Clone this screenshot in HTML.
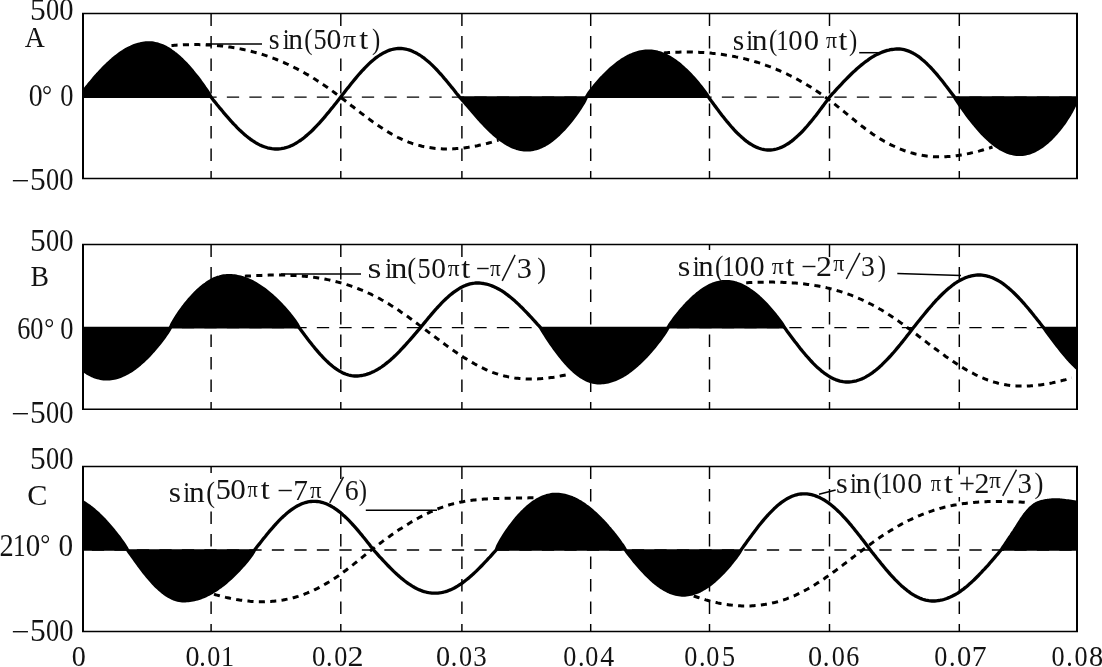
<!DOCTYPE html>
<html><head><meta charset="utf-8"><title>Sine waveforms</title>
<style>html,body{margin:0;padding:0;background:#fff;}body{width:1102px;height:667px;overflow:hidden;font-family:"Liberation Serif",serif;}svg{display:block;}</style></head>
<body>
<svg width="1102" height="667" viewBox="0 0 1102 667">
<rect width="1102" height="667" fill="#fff"/>
<line x1="211.1" y1="13.5" x2="211.1" y2="178.4" stroke="#000" stroke-width="1.45" stroke-dasharray="12.6 9.9"/>
<line x1="340.8" y1="13.5" x2="340.8" y2="178.4" stroke="#000" stroke-width="1.45" stroke-dasharray="12.6 9.9"/>
<line x1="461.9" y1="13.5" x2="461.9" y2="178.4" stroke="#000" stroke-width="1.45" stroke-dasharray="12.6 9.9"/>
<line x1="590.7" y1="13.5" x2="590.7" y2="178.4" stroke="#000" stroke-width="1.45" stroke-dasharray="12.6 9.9"/>
<line x1="709.5" y1="13.5" x2="709.5" y2="178.4" stroke="#000" stroke-width="1.45" stroke-dasharray="12.6 9.9"/>
<line x1="829.5" y1="13.5" x2="829.5" y2="178.4" stroke="#000" stroke-width="1.45" stroke-dasharray="12.6 9.9"/>
<line x1="959.3" y1="13.5" x2="959.3" y2="178.4" stroke="#000" stroke-width="1.45" stroke-dasharray="12.6 9.9"/>
<line x1="83.0" y1="97.1" x2="1077.0" y2="97.1" stroke="#000" stroke-width="1.4" stroke-dasharray="12.3 10.2" stroke-dashoffset="13.65"/>
<line x1="211.1" y1="244.5" x2="211.1" y2="409.35" stroke="#000" stroke-width="1.45" stroke-dasharray="12.6 9.9"/>
<line x1="340.8" y1="244.5" x2="340.8" y2="409.35" stroke="#000" stroke-width="1.45" stroke-dasharray="12.6 9.9"/>
<line x1="461.9" y1="244.5" x2="461.9" y2="409.35" stroke="#000" stroke-width="1.45" stroke-dasharray="12.6 9.9"/>
<line x1="590.7" y1="244.5" x2="590.7" y2="409.35" stroke="#000" stroke-width="1.45" stroke-dasharray="12.6 9.9"/>
<line x1="709.5" y1="244.5" x2="709.5" y2="409.35" stroke="#000" stroke-width="1.45" stroke-dasharray="12.6 9.9"/>
<line x1="829.5" y1="244.5" x2="829.5" y2="409.35" stroke="#000" stroke-width="1.45" stroke-dasharray="12.6 9.9"/>
<line x1="959.3" y1="244.5" x2="959.3" y2="409.35" stroke="#000" stroke-width="1.45" stroke-dasharray="12.6 9.9"/>
<line x1="83.0" y1="327.6" x2="1077.0" y2="327.6" stroke="#000" stroke-width="1.4" stroke-dasharray="12.3 10.2" stroke-dashoffset="13.65"/>
<line x1="211.1" y1="466.5" x2="211.1" y2="631.4" stroke="#000" stroke-width="1.45" stroke-dasharray="12.6 9.9"/>
<line x1="340.8" y1="466.5" x2="340.8" y2="631.4" stroke="#000" stroke-width="1.45" stroke-dasharray="12.6 9.9"/>
<line x1="461.9" y1="466.5" x2="461.9" y2="631.4" stroke="#000" stroke-width="1.45" stroke-dasharray="12.6 9.9"/>
<line x1="590.7" y1="466.5" x2="590.7" y2="631.4" stroke="#000" stroke-width="1.45" stroke-dasharray="12.6 9.9"/>
<line x1="709.5" y1="466.5" x2="709.5" y2="631.4" stroke="#000" stroke-width="1.45" stroke-dasharray="12.6 9.9"/>
<line x1="829.5" y1="466.5" x2="829.5" y2="631.4" stroke="#000" stroke-width="1.45" stroke-dasharray="12.6 9.9"/>
<line x1="959.3" y1="466.5" x2="959.3" y2="631.4" stroke="#000" stroke-width="1.45" stroke-dasharray="12.6 9.9"/>
<line x1="83.0" y1="550.0" x2="1077.0" y2="550.0" stroke="#000" stroke-width="1.4" stroke-dasharray="12.3 10.2" stroke-dashoffset="13.65"/>
<rect x="338.7" y="27.5" width="4" height="30.0" fill="#fff"/>
<rect x="827.5" y="27.5" width="4" height="30.0" fill="#fff"/>
<rect x="459.9" y="258" width="4" height="30" fill="#fff"/>
<rect x="707.5" y="250" width="4" height="38" fill="#fff"/>
<rect x="827.5" y="258.5" width="4" height="29.5" fill="#fff"/>
<rect x="209.1" y="473" width="4" height="37" fill="#fff"/>
<rect x="338.7" y="480" width="4" height="28" fill="#fff"/>
<rect x="957.3" y="474.5" width="4" height="22.5" fill="#fff"/>
<path d="M82.0,13.5 H1078.0 M82.0,178.4 H1078.0" fill="none" stroke="#000" stroke-width="1.5"/>
<path d="M83.0,13.5 V178.4 M1077.0,13.5 V178.4" fill="none" stroke="#000" stroke-width="2"/>
<path d="M83.0,97.1 L83.0,91.6 L83.6,90.9 L85.1,88.9 L86.6,87.0 L88.1,85.2 L89.6,83.3 L91.2,81.5 L92.7,79.7 L94.2,77.9 L95.7,76.2 L97.2,74.5 L98.8,72.8 L100.3,71.2 L101.8,69.6 L103.3,68.0 L104.8,66.5 L106.4,65.0 L107.9,63.5 L109.4,62.1 L110.9,60.7 L112.4,59.4 L114.0,58.1 L115.5,56.9 L117.0,55.7 L118.5,54.5 L120.0,53.4 L121.5,52.4 L123.1,51.4 L124.6,50.4 L126.1,49.5 L127.6,48.7 L129.1,47.9 L130.7,47.2 L132.2,46.5 L133.7,45.9 L135.2,45.3 L136.7,44.8 L138.3,44.4 L139.8,44.0 L141.3,43.6 L142.8,43.4 L144.3,43.2 L145.9,43.0 L147.4,42.9 L148.9,42.9 L150.4,42.9 L151.9,43.0 L153.4,43.2 L155.0,43.5 L156.5,43.8 L158.0,44.2 L159.5,44.7 L161.0,45.2 L162.5,45.8 L164.0,46.5 L165.6,47.3 L167.1,48.1 L168.6,49.0 L170.1,49.9 L171.6,51.0 L173.1,52.0 L174.6,53.2 L176.2,54.4 L177.7,55.7 L179.2,57.0 L180.7,58.4 L182.2,59.8 L183.7,61.3 L185.3,62.9 L186.8,64.5 L188.3,66.2 L189.8,67.9 L191.3,69.6 L192.8,71.4 L194.3,73.3 L195.9,75.2 L197.4,77.1 L198.9,79.1 L200.4,81.1 L201.9,83.2 L203.4,85.3 L204.9,87.5 L206.5,89.7 L208.0,92.0 L209.5,94.4 L211.0,97.1 L211.0,97.1Z" fill="#000"/>
<line x1="83" y1="97.1" x2="211" y2="97.1" stroke="#000" stroke-width="1.6"/>
<path d="M459.5,97.1 L459.5,97.1 L461.0,98.7 L462.5,100.3 L464.0,102.0 L465.5,103.8 L467.0,105.5 L468.5,107.2 L470.0,109.0 L471.5,110.7 L473.0,112.5 L474.5,114.2 L476.0,115.9 L477.5,117.6 L479.0,119.3 L480.5,121.0 L482.0,122.6 L483.5,124.2 L485.0,125.8 L486.5,127.3 L488.0,128.8 L489.5,130.3 L491.0,131.7 L492.5,133.1 L494.0,134.5 L495.5,135.8 L497.0,137.0 L498.5,138.2 L500.0,139.4 L501.5,140.5 L503.0,141.5 L504.5,142.5 L506.0,143.4 L507.5,144.3 L509.0,145.1 L510.5,145.9 L512.0,146.6 L513.5,147.2 L515.0,147.8 L516.5,148.3 L518.0,148.7 L519.5,149.1 L521.0,149.4 L522.5,149.6 L524.0,149.8 L525.5,149.9 L527.0,149.9 L528.5,149.9 L530.0,149.8 L531.6,149.6 L533.1,149.3 L534.6,149.0 L536.1,148.6 L537.7,148.1 L539.2,147.6 L540.7,146.9 L542.2,146.2 L543.8,145.5 L545.3,144.7 L546.8,143.8 L548.3,142.8 L549.8,141.8 L551.4,140.7 L552.9,139.5 L554.4,138.3 L555.9,137.0 L557.5,135.6 L559.0,134.2 L560.5,132.7 L562.0,131.2 L563.6,129.6 L565.1,127.9 L566.6,126.2 L568.1,124.4 L569.6,122.6 L571.2,120.7 L572.7,118.7 L574.2,116.7 L575.7,114.7 L577.3,112.5 L578.8,110.3 L580.3,108.0 L581.8,105.7 L583.4,103.1 L584.9,100.4 L586.4,97.1 L586.4,97.1Z" fill="#000"/>
<line x1="459.5" y1="97.1" x2="586.4" y2="97.1" stroke="#000" stroke-width="1.6"/>
<path d="M586.4,97.1 L586.4,97.1 L587.9,94.5 L589.4,92.3 L590.9,90.3 L592.5,88.3 L594.0,86.4 L595.5,84.6 L597.0,82.8 L598.5,81.1 L600.0,79.4 L601.5,77.7 L603.1,76.2 L604.6,74.6 L606.1,73.1 L607.6,71.6 L609.1,70.2 L610.6,68.8 L612.1,67.5 L613.7,66.2 L615.2,65.0 L616.7,63.8 L618.2,62.6 L619.7,61.5 L621.2,60.5 L622.8,59.5 L624.3,58.6 L625.8,57.7 L627.3,56.8 L628.8,56.1 L630.3,55.3 L631.8,54.7 L633.4,54.0 L634.9,53.5 L636.4,53.0 L637.9,52.6 L639.4,52.2 L640.9,51.8 L642.4,51.6 L644.0,51.4 L645.5,51.2 L647.0,51.1 L648.5,51.1 L650.0,51.1 L651.5,51.2 L653.0,51.4 L654.5,51.6 L656.0,51.9 L657.5,52.2 L659.0,52.7 L660.5,53.1 L662.0,53.7 L663.5,54.3 L665.0,54.9 L666.5,55.6 L668.0,56.4 L669.5,57.2 L671.0,58.1 L672.5,59.1 L674.0,60.1 L675.5,61.2 L677.0,62.3 L678.5,63.4 L680.0,64.6 L681.5,65.9 L683.0,67.2 L684.5,68.6 L686.0,70.0 L687.5,71.5 L689.0,73.0 L690.5,74.5 L692.0,76.1 L693.5,77.7 L695.0,79.4 L696.5,81.1 L698.0,82.9 L699.5,84.7 L701.0,86.5 L702.5,88.4 L704.0,90.4 L705.5,92.4 L707.0,94.6 L708.5,97.1 L708.5,97.1Z" fill="#000"/>
<line x1="586.4" y1="97.1" x2="708.5" y2="97.1" stroke="#000" stroke-width="1.6"/>
<path d="M954.5,97.1 L954.5,97.1 L956.0,99.6 L957.5,101.9 L959.0,104.1 L960.5,106.3 L962.1,108.4 L963.6,110.5 L965.1,112.6 L966.6,114.7 L968.1,116.7 L969.6,118.7 L971.1,120.6 L972.6,122.5 L974.2,124.3 L975.7,126.2 L977.2,127.9 L978.7,129.7 L980.2,131.4 L981.7,133.0 L983.2,134.6 L984.7,136.1 L986.2,137.6 L987.8,139.0 L989.3,140.4 L990.8,141.7 L992.3,143.0 L993.8,144.2 L995.3,145.3 L996.8,146.4 L998.3,147.4 L999.8,148.4 L1001.4,149.2 L1002.9,150.1 L1004.4,150.8 L1005.9,151.5 L1007.4,152.1 L1008.9,152.6 L1010.4,153.1 L1011.9,153.5 L1013.5,153.8 L1015.0,154.1 L1016.5,154.3 L1018.0,154.4 L1019.5,154.4 L1021.0,154.4 L1022.6,154.3 L1024.1,154.1 L1025.6,153.8 L1027.1,153.5 L1028.7,153.1 L1030.2,152.6 L1031.7,152.0 L1033.2,151.4 L1034.8,150.7 L1036.3,149.9 L1037.8,149.1 L1039.3,148.2 L1040.9,147.2 L1042.4,146.1 L1043.9,145.0 L1045.4,143.8 L1047.0,142.5 L1048.5,141.1 L1050.0,139.7 L1051.6,138.2 L1053.1,136.7 L1054.6,135.0 L1056.1,133.3 L1057.7,131.5 L1059.2,129.7 L1060.7,127.8 L1062.2,125.7 L1063.8,123.7 L1065.3,121.5 L1066.8,119.2 L1068.3,116.8 L1069.9,114.3 L1071.4,111.6 L1072.9,108.8 L1074.4,105.7 L1076.0,102.2 L1077.0,98.8 L1077.0,97.1Z" fill="#000"/>
<line x1="954.5" y1="97.1" x2="1077" y2="97.1" stroke="#000" stroke-width="1.6"/>
<clipPath id="c13"><rect x="83.0" y="13.5" width="994.0" height="164.9"/></clipPath>
<path d="M83.0,91.6 L83.6,90.9 L85.1,88.9 L86.6,87.0 L88.1,85.2 L89.6,83.3 L91.2,81.5 L92.7,79.7 L94.2,77.9 L95.7,76.2 L97.2,74.5 L98.8,72.8 L100.3,71.2 L101.8,69.6 L103.3,68.0 L104.8,66.5 L106.4,65.0 L107.9,63.5 L109.4,62.1 L110.9,60.7 L112.4,59.4 L114.0,58.1 L115.5,56.9 L117.0,55.7 L118.5,54.5 L120.0,53.4 L121.5,52.4 L123.1,51.4 L124.6,50.4 L126.1,49.5 L127.6,48.7 L129.1,47.9 L130.7,47.2 L132.2,46.5 L133.7,45.9 L135.2,45.3 L136.7,44.8 L138.3,44.4 L139.8,44.0 L141.3,43.6 L142.8,43.4 L144.3,43.2 L145.9,43.0 L147.4,42.9 L148.9,42.9 L150.4,42.9 L151.9,43.0 L153.4,43.2 L155.0,43.5 L156.5,43.8 L158.0,44.2 L159.5,44.7 L161.0,45.2 L162.5,45.8 L164.0,46.5 L165.6,47.3 L167.1,48.1 L168.6,49.0 L170.1,49.9 L171.6,51.0 L173.1,52.0 L174.6,53.2 L176.2,54.4 L177.7,55.7 L179.2,57.0 L180.7,58.4 L182.2,59.8 L183.7,61.3 L185.3,62.9 L186.8,64.5 L188.3,66.2 L189.8,67.9 L191.3,69.6 L192.8,71.4 L194.3,73.3 L195.9,75.2 L197.4,77.1 L198.9,79.1 L200.4,81.1 L201.9,83.2 L203.4,85.3 L204.9,87.5 L206.5,89.7 L208.0,92.0 L209.5,94.4 L211.0,97.1 L212.5,99.0 L214.0,100.9 L215.6,102.8 L217.1,104.7 L218.6,106.5 L220.1,108.4 L221.7,110.2 L223.2,112.1 L224.7,113.9 L226.2,115.6 L227.8,117.4 L229.3,119.1 L230.8,120.8 L232.3,122.5 L233.8,124.1 L235.4,125.7 L236.9,127.3 L238.4,128.8 L239.9,130.3 L241.5,131.7 L243.0,133.1 L244.5,134.5 L246.0,135.8 L247.6,137.0 L249.1,138.2 L250.6,139.3 L252.1,140.4 L253.7,141.4 L255.2,142.4 L256.7,143.3 L258.2,144.1 L259.7,144.9 L261.3,145.6 L262.8,146.2 L264.3,146.8 L265.8,147.3 L267.4,147.8 L268.9,148.1 L270.4,148.4 L271.9,148.7 L273.5,148.9 L275.0,149.0 L276.5,149.0 L278.0,149.0 L279.6,148.9 L281.1,148.7 L282.6,148.4 L284.1,148.1 L285.7,147.7 L287.2,147.2 L288.7,146.7 L290.3,146.1 L291.8,145.4 L293.3,144.7 L294.8,143.9 L296.4,143.0 L297.9,142.0 L299.4,141.0 L301.0,140.0 L302.5,138.9 L304.0,137.7 L305.5,136.4 L307.1,135.1 L308.6,133.8 L310.1,132.4 L311.7,131.0 L313.2,129.5 L314.7,127.9 L316.2,126.3 L317.8,124.7 L319.3,123.1 L320.8,121.4 L322.4,119.6 L323.9,117.9 L325.4,116.1 L326.9,114.2 L328.5,112.4 L330.0,110.5 L331.5,108.6 L333.1,106.7 L334.6,104.8 L336.1,102.9 L337.6,101.0 L339.2,99.0 L340.7,97.1 L342.2,95.1 L343.7,93.2 L345.2,91.2 L346.7,89.3 L348.3,87.4 L349.8,85.5 L351.3,83.6 L352.8,81.7 L354.3,79.9 L355.8,78.1 L357.3,76.3 L358.8,74.5 L360.3,72.8 L361.8,71.1 L363.4,69.5 L364.9,67.9 L366.4,66.4 L367.9,64.9 L369.4,63.4 L370.9,62.0 L372.4,60.7 L373.9,59.5 L375.4,58.2 L376.9,57.1 L378.5,56.0 L380.0,55.0 L381.5,54.1 L383.0,53.2 L384.5,52.4 L386.0,51.7 L387.5,51.0 L389.0,50.4 L390.5,49.9 L392.0,49.5 L393.6,49.1 L395.1,48.9 L396.6,48.7 L398.1,48.5 L399.6,48.5 L401.1,48.5 L402.7,48.7 L404.2,48.9 L405.7,49.1 L407.3,49.5 L408.8,49.9 L410.4,50.4 L411.9,51.0 L413.4,51.7 L415.0,52.4 L416.5,53.2 L418.0,54.1 L419.6,55.0 L421.1,56.0 L422.6,57.1 L424.2,58.2 L425.7,59.5 L427.2,60.7 L428.8,62.0 L430.3,63.4 L431.9,64.9 L433.4,66.4 L434.9,67.9 L436.5,69.5 L438.0,71.1 L439.5,72.8 L441.1,74.5 L442.6,76.3 L444.1,78.1 L445.7,79.9 L447.2,81.7 L448.7,83.6 L450.3,85.5 L451.8,87.4 L453.4,89.3 L454.9,91.2 L456.4,93.2 L458.0,95.1 L459.5,97.1 L461.0,98.7 L462.5,100.3 L464.0,102.0 L465.5,103.8 L467.0,105.5 L468.5,107.2 L470.0,109.0 L471.5,110.7 L473.0,112.5 L474.5,114.2 L476.0,115.9 L477.5,117.6 L479.0,119.3 L480.5,121.0 L482.0,122.6 L483.5,124.2 L485.0,125.8 L486.5,127.3 L488.0,128.8 L489.5,130.3 L491.0,131.7 L492.5,133.1 L494.0,134.5 L495.5,135.8 L497.0,137.0 L498.5,138.2 L500.0,139.4 L501.5,140.5 L503.0,141.5 L504.5,142.5 L506.0,143.4 L507.5,144.3 L509.0,145.1 L510.5,145.9 L512.0,146.6 L513.5,147.2 L515.0,147.8 L516.5,148.3 L518.0,148.7 L519.5,149.1 L521.0,149.4 L522.5,149.6 L524.0,149.8 L525.5,149.9 L527.0,149.9 L528.5,149.9 L530.0,149.8 L531.6,149.6 L533.1,149.3 L534.6,149.0 L536.1,148.6 L537.7,148.1 L539.2,147.6 L540.7,146.9 L542.2,146.2 L543.8,145.5 L545.3,144.7 L546.8,143.8 L548.3,142.8 L549.8,141.8 L551.4,140.7 L552.9,139.5 L554.4,138.3 L555.9,137.0 L557.5,135.6 L559.0,134.2 L560.5,132.7 L562.0,131.2 L563.6,129.6 L565.1,127.9 L566.6,126.2 L568.1,124.4 L569.6,122.6 L571.2,120.7 L572.7,118.7 L574.2,116.7 L575.7,114.7 L577.3,112.5 L578.8,110.3 L580.3,108.0 L581.8,105.7 L583.4,103.1 L584.9,100.4 L586.4,97.1 L587.9,94.5 L589.4,92.3 L590.9,90.3 L592.5,88.3 L594.0,86.4 L595.5,84.6 L597.0,82.8 L598.5,81.1 L600.0,79.4 L601.5,77.7 L603.1,76.2 L604.6,74.6 L606.1,73.1 L607.6,71.6 L609.1,70.2 L610.6,68.8 L612.1,67.5 L613.7,66.2 L615.2,65.0 L616.7,63.8 L618.2,62.6 L619.7,61.5 L621.2,60.5 L622.8,59.5 L624.3,58.6 L625.8,57.7 L627.3,56.8 L628.8,56.1 L630.3,55.3 L631.8,54.7 L633.4,54.0 L634.9,53.5 L636.4,53.0 L637.9,52.6 L639.4,52.2 L640.9,51.8 L642.4,51.6 L644.0,51.4 L645.5,51.2 L647.0,51.1 L648.5,51.1 L650.0,51.1 L651.5,51.2 L653.0,51.4 L654.5,51.6 L656.0,51.9 L657.5,52.2 L659.0,52.7 L660.5,53.1 L662.0,53.7 L663.5,54.3 L665.0,54.9 L666.5,55.6 L668.0,56.4 L669.5,57.2 L671.0,58.1 L672.5,59.1 L674.0,60.1 L675.5,61.2 L677.0,62.3 L678.5,63.4 L680.0,64.6 L681.5,65.9 L683.0,67.2 L684.5,68.6 L686.0,70.0 L687.5,71.5 L689.0,73.0 L690.5,74.5 L692.0,76.1 L693.5,77.7 L695.0,79.4 L696.5,81.1 L698.0,82.9 L699.5,84.7 L701.0,86.5 L702.5,88.4 L704.0,90.4 L705.5,92.4 L707.0,94.6 L708.5,97.1 L710.0,99.2 L711.5,101.3 L713.0,103.3 L714.5,105.4 L716.1,107.4 L717.6,109.4 L719.1,111.5 L720.6,113.4 L722.1,115.4 L723.6,117.3 L725.1,119.2 L726.6,121.1 L728.2,122.9 L729.7,124.7 L731.2,126.5 L732.7,128.2 L734.2,129.9 L735.7,131.5 L737.2,133.0 L738.8,134.5 L740.3,135.9 L741.8,137.3 L743.3,138.6 L744.8,139.9 L746.3,141.1 L747.8,142.2 L749.3,143.3 L750.9,144.2 L752.4,145.1 L753.9,146.0 L755.4,146.7 L756.9,147.4 L758.4,148.0 L759.9,148.5 L761.4,149.0 L763.0,149.3 L764.5,149.6 L766.0,149.8 L767.5,150.0 L769.0,150.0 L770.5,150.0 L772.0,149.8 L773.5,149.6 L775.0,149.3 L776.6,149.0 L778.1,148.5 L779.6,148.0 L781.1,147.4 L782.6,146.7 L784.1,146.0 L785.6,145.1 L787.1,144.2 L788.7,143.3 L790.2,142.2 L791.7,141.1 L793.2,139.9 L794.7,138.6 L796.2,137.3 L797.7,135.9 L799.2,134.5 L800.8,133.0 L802.3,131.5 L803.8,129.9 L805.3,128.2 L806.8,126.5 L808.3,124.7 L809.8,122.9 L811.4,121.1 L812.9,119.2 L814.4,117.3 L815.9,115.4 L817.4,113.4 L818.9,111.5 L820.4,109.4 L821.9,107.4 L823.5,105.4 L825.0,103.3 L826.5,101.3 L828.0,99.2 L829.5,97.1 L831.0,95.4 L832.5,93.7 L834.1,92.1 L835.6,90.4 L837.1,88.7 L838.6,87.1 L840.2,85.5 L841.7,83.8 L843.2,82.2 L844.7,80.6 L846.2,79.1 L847.8,77.5 L849.3,76.0 L850.8,74.5 L852.3,73.0 L853.9,71.6 L855.4,70.2 L856.9,68.8 L858.4,67.5 L859.9,66.2 L861.5,64.9 L863.0,63.7 L864.5,62.5 L866.0,61.4 L867.6,60.3 L869.1,59.2 L870.6,58.2 L872.1,57.2 L873.6,56.3 L875.2,55.4 L876.7,54.6 L878.2,53.9 L879.7,53.2 L881.3,52.5 L882.8,51.9 L884.3,51.4 L885.8,50.9 L887.3,50.4 L888.9,50.1 L890.4,49.7 L891.9,49.5 L893.4,49.3 L895.0,49.1 L896.5,49.0 L898.0,49.0 L899.5,49.0 L901.1,49.2 L902.6,49.4 L904.1,49.7 L905.6,50.1 L907.2,50.6 L908.7,51.1 L910.2,51.7 L911.7,52.5 L913.3,53.3 L914.8,54.2 L916.3,55.1 L917.9,56.1 L919.4,57.2 L920.9,58.4 L922.4,59.7 L924.0,61.0 L925.5,62.4 L927.0,63.8 L928.5,65.3 L930.1,66.9 L931.6,68.5 L933.1,70.2 L934.6,71.9 L936.2,73.6 L937.7,75.4 L939.2,77.3 L940.8,79.2 L942.3,81.1 L943.8,83.0 L945.3,85.0 L946.9,87.0 L948.4,89.0 L949.9,91.0 L951.4,93.0 L953.0,95.1 L954.5,97.1 L956.0,99.6 L957.5,101.9 L959.0,104.1 L960.5,106.3 L962.1,108.4 L963.6,110.5 L965.1,112.6 L966.6,114.7 L968.1,116.7 L969.6,118.7 L971.1,120.6 L972.6,122.5 L974.2,124.3 L975.7,126.2 L977.2,127.9 L978.7,129.7 L980.2,131.4 L981.7,133.0 L983.2,134.6 L984.7,136.1 L986.2,137.6 L987.8,139.0 L989.3,140.4 L990.8,141.7 L992.3,143.0 L993.8,144.2 L995.3,145.3 L996.8,146.4 L998.3,147.4 L999.8,148.4 L1001.4,149.2 L1002.9,150.1 L1004.4,150.8 L1005.9,151.5 L1007.4,152.1 L1008.9,152.6 L1010.4,153.1 L1011.9,153.5 L1013.5,153.8 L1015.0,154.1 L1016.5,154.3 L1018.0,154.4 L1019.5,154.4 L1021.0,154.4 L1022.6,154.3 L1024.1,154.1 L1025.6,153.8 L1027.1,153.5 L1028.7,153.1 L1030.2,152.6 L1031.7,152.0 L1033.2,151.4 L1034.8,150.7 L1036.3,149.9 L1037.8,149.1 L1039.3,148.2 L1040.9,147.2 L1042.4,146.1 L1043.9,145.0 L1045.4,143.8 L1047.0,142.5 L1048.5,141.1 L1050.0,139.7 L1051.6,138.2 L1053.1,136.7 L1054.6,135.0 L1056.1,133.3 L1057.7,131.5 L1059.2,129.7 L1060.7,127.8 L1062.2,125.7 L1063.8,123.7 L1065.3,121.5 L1066.8,119.2 L1068.3,116.8 L1069.9,114.3 L1071.4,111.6 L1072.9,108.8 L1074.4,105.7 L1076.0,102.2 L1077.0,98.8" fill="none" stroke="#000" stroke-width="3.3" stroke-linejoin="round" clip-path="url(#c13)"/>
<path d="M171.5,45.5 L173.0,45.4 L174.5,45.3 L176.0,45.2 L177.5,45.1 L179.0,45.0 L180.5,44.9 L182.0,44.9 L183.5,44.8 L185.0,44.8 L186.5,44.7 L188.0,44.7 L189.5,44.7 L191.0,44.6 L192.5,44.6 L194.0,44.6 L195.5,44.6 L197.0,44.6 L198.5,44.6 L200.0,44.7 L201.5,44.7 L203.0,44.7 L204.5,44.8 L206.0,44.9 L207.5,44.9 L209.0,45.0 L210.5,45.1 L212.0,45.2 L213.5,45.3 L215.0,45.4 L216.5,45.5 L218.0,45.7 L219.5,45.8 L221.0,46.0 L222.5,46.1 L224.0,46.3 L225.5,46.5 L227.0,46.7 L228.5,46.9 L230.0,47.1 L231.5,47.3 L233.0,47.6 L234.5,47.8 L236.0,48.1 L237.5,48.4 L239.0,48.6 L240.5,48.9 L242.0,49.2 L243.5,49.5 L245.0,49.9 L246.5,50.2 L248.0,50.6 L249.5,50.9 L251.0,51.3 L252.5,51.7 L254.0,52.1 L255.5,52.5 L257.0,52.9 L258.5,53.3 L260.0,53.8 L261.5,54.2 L263.0,54.7 L264.5,55.2 L266.0,55.7 L267.5,56.2 L269.0,56.7 L270.5,57.2 L272.0,57.8 L273.5,58.3 L275.0,58.9 L276.5,59.5 L278.0,60.1 L279.5,60.7 L281.0,61.3 L282.5,62.0 L284.0,62.6 L285.5,63.3 L287.0,64.0 L288.5,64.7 L290.0,65.4 L291.5,66.1 L293.0,66.8 L294.5,67.6 L296.0,68.3 L297.5,69.1 L299.0,69.9 L300.5,70.7 L302.0,71.5 L303.5,72.4 L305.0,73.2 L306.5,74.1 L308.0,74.9 L309.5,75.8 L311.0,76.7 L312.5,77.6 L314.0,78.6 L315.5,79.5 L317.0,80.5 L318.5,81.4 L320.0,82.4 L321.5,83.4 L323.0,84.4 L324.5,85.4 L326.0,86.5 L327.5,87.5 L329.0,88.6 L330.5,89.7 L332.0,90.8 L333.5,91.9 L335.0,93.0 L336.5,94.1 L338.0,95.2 L339.5,96.4 L341.0,97.5 L342.5,98.7 L344.0,99.8 L345.5,101.0 L347.0,102.2 L348.5,103.3 L350.0,104.5 L351.5,105.7 L353.0,106.8 L354.5,108.0 L356.0,109.2 L357.5,110.3 L359.0,111.5 L360.5,112.6 L362.0,113.8 L363.5,114.9 L365.0,116.1 L366.5,117.2 L368.0,118.3 L369.5,119.4 L371.0,120.5 L372.5,121.6 L374.0,122.7 L375.5,123.7 L377.0,124.8 L378.5,125.8 L380.0,126.8 L381.5,127.8 L383.0,128.8 L384.5,129.8 L386.0,130.7 L387.5,131.6 L389.0,132.5 L390.5,133.4 L392.0,134.3 L393.5,135.1 L395.0,135.9 L396.5,136.7 L398.0,137.5 L399.5,138.2 L401.0,138.9 L402.5,139.6 L404.0,140.3 L405.5,140.9 L407.0,141.5 L408.5,142.1 L410.0,142.6 L411.5,143.2 L413.0,143.7 L414.5,144.1 L416.0,144.6 L417.5,145.0 L419.0,145.4 L420.5,145.8 L422.0,146.2 L423.5,146.5 L425.0,146.8 L426.5,147.1 L428.0,147.4 L429.5,147.6 L431.0,147.8 L432.5,148.0 L434.0,148.2 L435.5,148.4 L437.0,148.5 L438.5,148.6 L440.0,148.7 L441.5,148.8 L443.0,148.9 L444.5,148.9 L446.0,148.9 L447.5,148.9 L449.0,148.9 L450.5,148.9 L452.0,148.9 L453.5,148.8 L455.0,148.7 L456.5,148.6 L458.0,148.5 L459.5,148.4 L461.0,148.2 L462.5,148.1 L464.0,147.9 L465.5,147.7 L467.0,147.5 L468.5,147.3 L470.0,147.0 L471.5,146.8 L473.0,146.5 L474.5,146.3 L476.0,146.0 L477.5,145.7 L479.0,145.3 L480.5,145.0 L482.0,144.7 L483.5,144.3 L485.0,144.0 L486.5,143.6 L488.0,143.2 L489.5,142.8 L491.0,142.4 L492.5,141.9 L494.0,141.5 L495.5,141.0 L497.0,140.6 L498.5,140.1" fill="none" stroke="#000" stroke-width="3.0" stroke-dasharray="6.1 5.3"/>
<path d="M664.0,53.0 L665.5,52.8 L667.0,52.7 L668.5,52.6 L670.0,52.6 L671.5,52.5 L673.0,52.4 L674.5,52.3 L676.0,52.3 L677.5,52.2 L679.0,52.2 L680.5,52.1 L682.0,52.1 L683.5,52.1 L685.0,52.1 L686.5,52.1 L688.0,52.1 L689.5,52.1 L691.0,52.1 L692.5,52.1 L694.0,52.2 L695.5,52.2 L697.0,52.3 L698.5,52.3 L700.0,52.4 L701.5,52.5 L703.0,52.5 L704.5,52.6 L706.0,52.7 L707.5,52.9 L709.0,53.0 L710.5,53.1 L712.0,53.3 L713.5,53.4 L715.0,53.6 L716.5,53.7 L718.0,53.9 L719.5,54.1 L721.0,54.3 L722.5,54.5 L724.0,54.7 L725.5,55.0 L727.0,55.2 L728.5,55.4 L730.0,55.7 L731.5,56.0 L733.0,56.3 L734.5,56.5 L736.0,56.9 L737.5,57.2 L739.0,57.5 L740.5,57.8 L742.0,58.2 L743.5,58.5 L745.0,58.9 L746.5,59.3 L748.0,59.7 L749.5,60.1 L751.0,60.5 L752.5,60.9 L754.0,61.3 L755.5,61.8 L757.0,62.2 L758.5,62.7 L760.0,63.2 L761.5,63.7 L763.0,64.2 L764.5,64.7 L766.0,65.3 L767.5,65.8 L769.0,66.4 L770.5,66.9 L772.0,67.5 L773.5,68.1 L775.0,68.7 L776.5,69.3 L778.0,70.0 L779.5,70.6 L781.0,71.3 L782.5,71.9 L784.0,72.6 L785.5,73.3 L787.0,74.0 L788.5,74.8 L790.0,75.5 L791.5,76.3 L793.0,77.0 L794.5,77.8 L796.0,78.6 L797.5,79.4 L799.0,80.2 L800.5,81.1 L802.0,81.9 L803.5,82.8 L805.0,83.7 L806.5,84.6 L808.0,85.5 L809.5,86.4 L811.0,87.3 L812.5,88.3 L814.0,89.3 L815.5,90.3 L817.0,91.3 L818.5,92.3 L820.0,93.3 L821.5,94.3 L823.0,95.4 L824.5,96.5 L826.0,97.6 L827.5,98.7 L829.0,99.8 L830.5,100.9 L832.0,102.1 L833.5,103.3 L835.0,104.4 L836.5,105.6 L838.0,106.8 L839.5,108.0 L841.0,109.2 L842.5,110.5 L844.0,111.7 L845.5,112.9 L847.0,114.1 L848.5,115.4 L850.0,116.6 L851.5,117.8 L853.0,119.0 L854.5,120.2 L856.0,121.5 L857.5,122.6 L859.0,123.8 L860.5,125.0 L862.0,126.2 L863.5,127.3 L865.0,128.5 L866.5,129.6 L868.0,130.7 L869.5,131.8 L871.0,132.8 L872.5,133.9 L874.0,134.9 L875.5,135.9 L877.0,136.8 L878.5,137.8 L880.0,138.7 L881.5,139.6 L883.0,140.5 L884.5,141.4 L886.0,142.2 L887.5,143.0 L889.0,143.8 L890.5,144.6 L892.0,145.3 L893.5,146.0 L895.0,146.7 L896.5,147.4 L898.0,148.1 L899.5,148.7 L901.0,149.3 L902.5,149.9 L904.0,150.5 L905.5,151.0 L907.0,151.5 L908.5,152.0 L910.0,152.5 L911.5,152.9 L913.0,153.3 L914.5,153.7 L916.0,154.1 L917.5,154.4 L919.0,154.7 L920.5,155.0 L922.0,155.3 L923.5,155.6 L925.0,155.8 L926.5,156.0 L928.0,156.2 L929.5,156.3 L931.0,156.5 L932.5,156.6 L934.0,156.7 L935.5,156.7 L937.0,156.8 L938.5,156.8 L940.0,156.8 L941.5,156.8 L943.0,156.8 L944.5,156.7 L946.0,156.7 L947.5,156.6 L949.0,156.5 L950.5,156.4 L952.0,156.2 L953.5,156.1 L955.0,155.9 L956.5,155.7 L958.0,155.5 L959.5,155.3 L961.0,155.0 L962.5,154.8 L964.0,154.5 L965.5,154.2 L967.0,153.9 L968.5,153.6 L970.0,153.3 L971.5,152.9 L973.0,152.6 L974.5,152.2 L976.0,151.8 L977.5,151.5 L979.0,151.1 L980.5,150.6 L982.0,150.2 L983.5,149.8 L985.0,149.3 L986.5,148.9 L988.0,148.4 L989.5,148.0 L991.0,147.5 L992.5,147.0" fill="none" stroke="#000" stroke-width="3.0" stroke-dasharray="6.1 5.3"/>
<path d="M82.0,244.5 H1078.0 M82.0,409.35 H1078.0" fill="none" stroke="#000" stroke-width="1.5"/>
<path d="M83.0,244.5 V409.35 M1077.0,244.5 V409.35" fill="none" stroke="#000" stroke-width="2"/>
<path d="M83.0,327.6 L83.0,370.3 L84.0,371.0 L85.5,372.0 L87.0,373.0 L88.5,373.8 L90.0,374.6 L91.5,375.4 L93.0,376.0 L94.5,376.6 L96.0,377.2 L97.5,377.6 L99.0,378.0 L100.5,378.3 L102.0,378.6 L103.5,378.8 L105.0,378.9 L106.5,378.9 L108.0,378.9 L109.5,378.8 L111.1,378.6 L112.6,378.4 L114.1,378.1 L115.6,377.8 L117.2,377.4 L118.7,376.9 L120.2,376.4 L121.7,375.8 L123.2,375.1 L124.8,374.4 L126.3,373.6 L127.8,372.8 L129.3,371.9 L130.8,371.0 L132.4,370.0 L133.9,368.9 L135.4,367.8 L136.9,366.6 L138.4,365.4 L140.0,364.1 L141.5,362.8 L143.0,361.5 L144.5,360.0 L146.1,358.6 L147.6,357.0 L149.1,355.5 L150.6,353.9 L152.1,352.2 L153.7,350.5 L155.2,348.7 L156.7,347.0 L158.2,345.1 L159.8,343.2 L161.3,341.3 L162.8,339.3 L164.3,337.2 L165.8,335.1 L167.4,332.8 L168.9,330.4 L170.4,327.6 L170.4,327.6Z" fill="#000"/>
<line x1="83" y1="327.6" x2="170.4" y2="327.6" stroke="#000" stroke-width="1.6"/>
<path d="M170.4,327.6 L170.4,327.6 L171.9,324.1 L173.5,321.4 L175.0,318.8 L176.5,316.4 L178.0,314.1 L179.6,311.8 L181.1,309.7 L182.6,307.6 L184.2,305.6 L185.7,303.6 L187.2,301.8 L188.7,299.9 L190.3,298.2 L191.8,296.5 L193.3,294.8 L194.9,293.2 L196.4,291.7 L197.9,290.3 L199.4,288.9 L201.0,287.5 L202.5,286.3 L204.0,285.1 L205.6,284.0 L207.1,282.9 L208.6,281.9 L210.2,281.0 L211.7,280.1 L213.2,279.3 L214.7,278.6 L216.3,278.0 L217.8,277.4 L219.3,277.0 L220.9,276.5 L222.4,276.2 L223.9,275.9 L225.4,275.8 L227.0,275.6 L228.5,275.6 L230.0,275.6 L231.5,275.7 L233.0,275.8 L234.5,276.0 L236.0,276.2 L237.5,276.5 L239.0,276.8 L240.5,277.2 L242.0,277.6 L243.5,278.1 L245.0,278.6 L246.5,279.1 L248.0,279.7 L249.5,280.4 L251.0,281.1 L252.5,281.8 L254.0,282.6 L255.5,283.5 L257.0,284.4 L258.5,285.3 L260.0,286.3 L261.5,287.3 L263.0,288.3 L264.5,289.4 L266.0,290.6 L267.5,291.8 L269.0,293.0 L270.5,294.2 L272.0,295.5 L273.5,296.9 L275.0,298.3 L276.5,299.7 L278.0,301.2 L279.5,302.7 L281.0,304.2 L282.5,305.8 L284.0,307.4 L285.5,309.1 L287.0,310.8 L288.5,312.6 L290.0,314.4 L291.5,316.3 L293.0,318.2 L294.5,320.2 L296.0,322.4 L297.5,324.7 L299.0,327.6 L299.0,327.6Z" fill="#000"/>
<line x1="170.4" y1="327.6" x2="299" y2="327.6" stroke="#000" stroke-width="1.6"/>
<path d="M540.5,327.6 L540.5,327.6 L542.0,330.2 L543.5,332.6 L545.0,335.0 L546.5,337.3 L548.0,339.6 L549.5,341.8 L551.0,344.0 L552.5,346.1 L554.0,348.2 L555.5,350.3 L557.0,352.3 L558.5,354.3 L560.0,356.2 L561.5,358.0 L563.0,359.9 L564.5,361.6 L566.0,363.3 L567.5,365.0 L569.0,366.5 L570.5,368.1 L572.0,369.5 L573.5,370.9 L575.0,372.2 L576.5,373.5 L578.0,374.6 L579.5,375.7 L581.0,376.8 L582.5,377.7 L584.0,378.6 L585.5,379.4 L587.0,380.1 L588.5,380.7 L590.0,381.3 L591.5,381.7 L593.0,382.1 L594.5,382.4 L596.0,382.6 L597.5,382.8 L599.0,382.8 L600.5,382.8 L602.0,382.7 L603.5,382.5 L605.0,382.3 L606.5,382.1 L608.0,381.8 L609.5,381.4 L611.0,381.0 L612.5,380.5 L614.0,380.0 L615.5,379.4 L617.0,378.8 L618.5,378.1 L620.0,377.3 L621.5,376.5 L623.0,375.7 L624.5,374.8 L626.0,373.8 L627.5,372.8 L629.0,371.7 L630.5,370.6 L632.0,369.5 L633.5,368.3 L635.0,367.0 L636.5,365.8 L638.0,364.4 L639.5,363.0 L641.0,361.6 L642.5,360.1 L644.0,358.6 L645.5,357.1 L647.0,355.5 L648.5,353.8 L650.0,352.2 L651.5,350.4 L653.0,348.7 L654.5,346.9 L656.0,345.0 L657.5,343.1 L659.0,341.2 L660.5,339.2 L662.0,337.1 L663.5,335.0 L665.0,332.8 L666.5,330.4 L668.0,327.6 L668.0,327.6Z" fill="#000"/>
<line x1="540.5" y1="327.6" x2="668" y2="327.6" stroke="#000" stroke-width="1.6"/>
<path d="M668.0,327.6 L668.0,327.6 L669.5,325.0 L671.1,322.7 L672.6,320.6 L674.1,318.5 L675.6,316.5 L677.2,314.6 L678.7,312.7 L680.2,310.9 L681.7,309.1 L683.3,307.4 L684.8,305.7 L686.3,304.0 L687.8,302.4 L689.4,300.9 L690.9,299.4 L692.4,297.9 L693.9,296.5 L695.5,295.2 L697.0,293.9 L698.5,292.7 L700.1,291.5 L701.6,290.4 L703.1,289.4 L704.6,288.4 L706.2,287.5 L707.7,286.6 L709.2,285.8 L710.7,285.1 L712.3,284.4 L713.8,283.8 L715.3,283.3 L716.8,282.9 L718.4,282.5 L719.9,282.2 L721.4,281.9 L722.9,281.7 L724.5,281.6 L726.0,281.6 L727.5,281.6 L729.0,281.7 L730.5,281.9 L732.0,282.1 L733.5,282.4 L735.0,282.8 L736.5,283.2 L738.0,283.7 L739.5,284.3 L741.0,284.9 L742.5,285.6 L744.0,286.4 L745.5,287.2 L747.0,288.1 L748.5,289.0 L750.0,290.0 L751.5,291.0 L753.0,292.2 L754.5,293.3 L756.0,294.5 L757.5,295.8 L759.0,297.1 L760.5,298.5 L762.0,299.9 L763.5,301.4 L765.0,302.9 L766.5,304.5 L768.0,306.1 L769.5,307.8 L771.0,309.5 L772.5,311.3 L774.0,313.1 L775.5,314.9 L777.0,316.8 L778.5,318.7 L780.0,320.7 L781.5,322.8 L783.0,325.0 L784.5,327.6 L784.5,327.6Z" fill="#000"/>
<line x1="668" y1="327.6" x2="784.5" y2="327.6" stroke="#000" stroke-width="1.6"/>
<path d="M1043.5,327.6 L1043.5,327.6 L1045.0,329.6 L1046.5,331.7 L1048.0,333.7 L1049.5,335.8 L1051.0,337.8 L1052.5,339.8 L1054.0,341.8 L1055.5,343.8 L1057.0,345.7 L1058.5,347.6 L1060.0,349.5 L1061.5,351.4 L1063.0,353.2 L1064.5,355.0 L1066.0,356.8 L1067.5,358.5 L1069.0,360.1 L1070.5,361.8 L1072.0,363.3 L1073.5,364.9 L1075.0,366.3 L1076.5,367.8 L1077.0,368.2 L1077.0,327.6Z" fill="#000"/>
<line x1="1043.5" y1="327.6" x2="1077" y2="327.6" stroke="#000" stroke-width="1.6"/>
<clipPath id="c244"><rect x="83.0" y="244.5" width="994.0" height="164.85000000000002"/></clipPath>
<path d="M83.0,370.3 L84.0,371.0 L85.5,372.0 L87.0,373.0 L88.5,373.8 L90.0,374.6 L91.5,375.4 L93.0,376.0 L94.5,376.6 L96.0,377.2 L97.5,377.6 L99.0,378.0 L100.5,378.3 L102.0,378.6 L103.5,378.8 L105.0,378.9 L106.5,378.9 L108.0,378.9 L109.5,378.8 L111.1,378.6 L112.6,378.4 L114.1,378.1 L115.6,377.8 L117.2,377.4 L118.7,376.9 L120.2,376.4 L121.7,375.8 L123.2,375.1 L124.8,374.4 L126.3,373.6 L127.8,372.8 L129.3,371.9 L130.8,371.0 L132.4,370.0 L133.9,368.9 L135.4,367.8 L136.9,366.6 L138.4,365.4 L140.0,364.1 L141.5,362.8 L143.0,361.5 L144.5,360.0 L146.1,358.6 L147.6,357.0 L149.1,355.5 L150.6,353.9 L152.1,352.2 L153.7,350.5 L155.2,348.7 L156.7,347.0 L158.2,345.1 L159.8,343.2 L161.3,341.3 L162.8,339.3 L164.3,337.2 L165.8,335.1 L167.4,332.8 L168.9,330.4 L170.4,327.6 L171.9,324.1 L173.5,321.4 L175.0,318.8 L176.5,316.4 L178.0,314.1 L179.6,311.8 L181.1,309.7 L182.6,307.6 L184.2,305.6 L185.7,303.6 L187.2,301.8 L188.7,299.9 L190.3,298.2 L191.8,296.5 L193.3,294.8 L194.9,293.2 L196.4,291.7 L197.9,290.3 L199.4,288.9 L201.0,287.5 L202.5,286.3 L204.0,285.1 L205.6,284.0 L207.1,282.9 L208.6,281.9 L210.2,281.0 L211.7,280.1 L213.2,279.3 L214.7,278.6 L216.3,278.0 L217.8,277.4 L219.3,277.0 L220.9,276.5 L222.4,276.2 L223.9,275.9 L225.4,275.8 L227.0,275.6 L228.5,275.6 L230.0,275.6 L231.5,275.7 L233.0,275.8 L234.5,276.0 L236.0,276.2 L237.5,276.5 L239.0,276.8 L240.5,277.2 L242.0,277.6 L243.5,278.1 L245.0,278.6 L246.5,279.1 L248.0,279.7 L249.5,280.4 L251.0,281.1 L252.5,281.8 L254.0,282.6 L255.5,283.5 L257.0,284.4 L258.5,285.3 L260.0,286.3 L261.5,287.3 L263.0,288.3 L264.5,289.4 L266.0,290.6 L267.5,291.8 L269.0,293.0 L270.5,294.2 L272.0,295.5 L273.5,296.9 L275.0,298.3 L276.5,299.7 L278.0,301.2 L279.5,302.7 L281.0,304.2 L282.5,305.8 L284.0,307.4 L285.5,309.1 L287.0,310.8 L288.5,312.6 L290.0,314.4 L291.5,316.3 L293.0,318.2 L294.5,320.2 L296.0,322.4 L297.5,324.7 L299.0,327.6 L300.5,329.6 L302.0,331.6 L303.5,333.6 L305.0,335.6 L306.5,337.5 L308.0,339.5 L309.5,341.4 L311.0,343.3 L312.5,345.2 L314.0,347.0 L315.5,348.9 L317.0,350.6 L318.5,352.4 L320.0,354.1 L321.5,355.7 L323.0,357.3 L324.5,358.9 L326.0,360.4 L327.5,361.8 L329.0,363.2 L330.5,364.5 L332.0,365.8 L333.5,367.0 L335.0,368.1 L336.5,369.2 L338.0,370.2 L339.5,371.1 L341.0,371.9 L342.5,372.7 L344.0,373.4 L345.5,374.0 L347.0,374.5 L348.5,375.0 L350.0,375.3 L351.5,375.6 L353.0,375.8 L354.5,376.0 L356.0,376.0 L357.5,376.0 L359.0,375.9 L360.5,375.7 L362.0,375.5 L363.5,375.2 L365.0,374.8 L366.5,374.4 L368.0,373.9 L369.5,373.4 L371.0,372.8 L372.5,372.1 L374.0,371.4 L375.5,370.6 L377.0,369.8 L378.5,368.9 L380.0,368.0 L381.5,367.0 L383.0,365.9 L384.5,364.8 L386.0,363.6 L387.5,362.4 L389.0,361.2 L390.5,359.9 L392.0,358.6 L393.5,357.2 L395.0,355.8 L396.5,354.3 L398.0,352.8 L399.5,351.3 L401.0,349.7 L402.5,348.1 L404.0,346.5 L405.5,344.9 L407.0,343.2 L408.5,341.5 L410.0,339.8 L411.5,338.1 L413.0,336.4 L414.5,334.6 L416.0,332.9 L417.5,331.1 L419.0,329.4 L420.5,327.6 L422.0,325.8 L423.5,323.9 L425.0,322.1 L426.5,320.3 L428.0,318.4 L429.5,316.7 L431.0,314.9 L432.5,313.1 L434.0,311.4 L435.5,309.7 L437.0,308.0 L438.5,306.4 L440.0,304.8 L441.5,303.2 L443.0,301.7 L444.5,300.2 L446.0,298.8 L447.5,297.4 L449.0,296.1 L450.5,294.8 L452.0,293.6 L453.5,292.4 L455.0,291.3 L456.5,290.3 L458.0,289.3 L459.5,288.4 L461.0,287.5 L462.5,286.8 L464.0,286.1 L465.5,285.4 L467.0,284.9 L468.5,284.4 L470.0,283.9 L471.5,283.6 L473.0,283.3 L474.5,283.2 L476.0,283.0 L477.5,283.0 L479.0,283.0 L480.5,283.1 L482.0,283.3 L483.5,283.5 L485.0,283.8 L486.5,284.1 L488.0,284.5 L489.5,285.0 L491.0,285.5 L492.5,286.1 L494.0,286.7 L495.5,287.4 L497.0,288.2 L498.5,289.0 L500.0,289.8 L501.5,290.7 L503.0,291.7 L504.5,292.7 L506.0,293.8 L507.5,294.9 L509.0,296.1 L510.5,297.3 L512.0,298.5 L513.5,299.8 L515.0,301.1 L516.5,302.5 L518.0,303.9 L519.5,305.3 L521.0,306.8 L522.5,308.2 L524.0,309.8 L525.5,311.3 L527.0,312.9 L528.5,314.5 L530.0,316.1 L531.5,317.7 L533.0,319.3 L534.5,321.0 L536.0,322.6 L537.5,324.3 L539.0,325.9 L540.5,327.6 L542.0,330.2 L543.5,332.6 L545.0,335.0 L546.5,337.3 L548.0,339.6 L549.5,341.8 L551.0,344.0 L552.5,346.1 L554.0,348.2 L555.5,350.3 L557.0,352.3 L558.5,354.3 L560.0,356.2 L561.5,358.0 L563.0,359.9 L564.5,361.6 L566.0,363.3 L567.5,365.0 L569.0,366.5 L570.5,368.1 L572.0,369.5 L573.5,370.9 L575.0,372.2 L576.5,373.5 L578.0,374.6 L579.5,375.7 L581.0,376.8 L582.5,377.7 L584.0,378.6 L585.5,379.4 L587.0,380.1 L588.5,380.7 L590.0,381.3 L591.5,381.7 L593.0,382.1 L594.5,382.4 L596.0,382.6 L597.5,382.8 L599.0,382.8 L600.5,382.8 L602.0,382.7 L603.5,382.5 L605.0,382.3 L606.5,382.1 L608.0,381.8 L609.5,381.4 L611.0,381.0 L612.5,380.5 L614.0,380.0 L615.5,379.4 L617.0,378.8 L618.5,378.1 L620.0,377.3 L621.5,376.5 L623.0,375.7 L624.5,374.8 L626.0,373.8 L627.5,372.8 L629.0,371.7 L630.5,370.6 L632.0,369.5 L633.5,368.3 L635.0,367.0 L636.5,365.8 L638.0,364.4 L639.5,363.0 L641.0,361.6 L642.5,360.1 L644.0,358.6 L645.5,357.1 L647.0,355.5 L648.5,353.8 L650.0,352.2 L651.5,350.4 L653.0,348.7 L654.5,346.9 L656.0,345.0 L657.5,343.1 L659.0,341.2 L660.5,339.2 L662.0,337.1 L663.5,335.0 L665.0,332.8 L666.5,330.4 L668.0,327.6 L669.5,325.0 L671.1,322.7 L672.6,320.6 L674.1,318.5 L675.6,316.5 L677.2,314.6 L678.7,312.7 L680.2,310.9 L681.7,309.1 L683.3,307.4 L684.8,305.7 L686.3,304.0 L687.8,302.4 L689.4,300.9 L690.9,299.4 L692.4,297.9 L693.9,296.5 L695.5,295.2 L697.0,293.9 L698.5,292.7 L700.1,291.5 L701.6,290.4 L703.1,289.4 L704.6,288.4 L706.2,287.5 L707.7,286.6 L709.2,285.8 L710.7,285.1 L712.3,284.4 L713.8,283.8 L715.3,283.3 L716.8,282.9 L718.4,282.5 L719.9,282.2 L721.4,281.9 L722.9,281.7 L724.5,281.6 L726.0,281.6 L727.5,281.6 L729.0,281.7 L730.5,281.9 L732.0,282.1 L733.5,282.4 L735.0,282.8 L736.5,283.2 L738.0,283.7 L739.5,284.3 L741.0,284.9 L742.5,285.6 L744.0,286.4 L745.5,287.2 L747.0,288.1 L748.5,289.0 L750.0,290.0 L751.5,291.0 L753.0,292.2 L754.5,293.3 L756.0,294.5 L757.5,295.8 L759.0,297.1 L760.5,298.5 L762.0,299.9 L763.5,301.4 L765.0,302.9 L766.5,304.5 L768.0,306.1 L769.5,307.8 L771.0,309.5 L772.5,311.3 L774.0,313.1 L775.5,314.9 L777.0,316.8 L778.5,318.7 L780.0,320.7 L781.5,322.8 L783.0,325.0 L784.5,327.6 L786.0,329.6 L787.5,331.7 L789.0,333.7 L790.5,335.7 L792.0,337.7 L793.5,339.7 L795.0,341.7 L796.5,343.6 L798.0,345.6 L799.5,347.5 L801.0,349.4 L802.5,351.2 L804.0,353.0 L805.5,354.8 L807.0,356.5 L808.5,358.2 L810.0,359.9 L811.5,361.5 L813.0,363.1 L814.5,364.6 L816.0,366.1 L817.5,367.5 L819.0,368.8 L820.5,370.1 L822.0,371.4 L823.5,372.5 L825.0,373.7 L826.5,374.7 L828.0,375.7 L829.5,376.6 L831.0,377.5 L832.5,378.2 L834.0,378.9 L835.5,379.6 L837.0,380.1 L838.5,380.6 L840.0,381.1 L841.5,381.4 L843.0,381.7 L844.5,381.8 L846.0,382.0 L847.5,382.0 L849.0,382.0 L850.5,381.9 L852.0,381.7 L853.5,381.4 L855.0,381.1 L856.5,380.8 L858.0,380.3 L859.5,379.8 L861.0,379.2 L862.5,378.6 L864.0,377.9 L865.5,377.1 L867.0,376.2 L868.5,375.3 L870.0,374.4 L871.5,373.4 L873.0,372.3 L874.5,371.1 L876.0,370.0 L877.5,368.7 L879.0,367.4 L880.5,366.1 L882.0,364.7 L883.5,363.2 L885.0,361.7 L886.5,360.2 L888.0,358.6 L889.5,357.0 L891.0,355.4 L892.5,353.7 L894.0,352.0 L895.5,350.2 L897.0,348.4 L898.5,346.6 L900.0,344.8 L901.5,342.9 L903.0,341.1 L904.5,339.2 L906.0,337.3 L907.5,335.3 L909.0,333.4 L910.5,331.5 L912.0,329.5 L913.5,327.6 L915.0,325.7 L916.5,323.8 L918.1,321.8 L919.6,319.9 L921.1,318.0 L922.6,316.2 L924.2,314.3 L925.7,312.4 L927.2,310.6 L928.7,308.8 L930.3,307.0 L931.8,305.3 L933.3,303.5 L934.8,301.9 L936.3,300.2 L937.9,298.6 L939.4,297.0 L940.9,295.5 L942.4,294.0 L944.0,292.5 L945.5,291.1 L947.0,289.7 L948.5,288.4 L950.1,287.2 L951.6,286.0 L953.1,284.8 L954.6,283.7 L956.2,282.7 L957.7,281.7 L959.2,280.8 L960.7,280.0 L962.2,279.2 L963.8,278.5 L965.3,277.8 L966.8,277.2 L968.3,276.7 L969.9,276.3 L971.4,275.9 L972.9,275.6 L974.4,275.3 L976.0,275.1 L977.5,275.0 L979.0,275.0 L980.5,275.0 L982.0,275.1 L983.5,275.3 L985.0,275.6 L986.5,275.9 L988.0,276.3 L989.5,276.7 L991.0,277.2 L992.5,277.8 L994.0,278.5 L995.5,279.2 L997.0,280.0 L998.5,280.8 L1000.0,281.7 L1001.5,282.7 L1003.0,283.7 L1004.5,284.8 L1006.0,286.0 L1007.5,287.2 L1009.0,288.4 L1010.5,289.7 L1012.0,291.1 L1013.5,292.5 L1015.0,294.0 L1016.5,295.5 L1018.0,297.0 L1019.5,298.6 L1021.0,300.2 L1022.5,301.9 L1024.0,303.5 L1025.5,305.3 L1027.0,307.0 L1028.5,308.8 L1030.0,310.6 L1031.5,312.4 L1033.0,314.3 L1034.5,316.2 L1036.0,318.0 L1037.5,319.9 L1039.0,321.8 L1040.5,323.8 L1042.0,325.7 L1043.5,327.6 L1045.0,329.6 L1046.5,331.7 L1048.0,333.7 L1049.5,335.8 L1051.0,337.8 L1052.5,339.8 L1054.0,341.8 L1055.5,343.8 L1057.0,345.7 L1058.5,347.6 L1060.0,349.5 L1061.5,351.4 L1063.0,353.2 L1064.5,355.0 L1066.0,356.8 L1067.5,358.5 L1069.0,360.1 L1070.5,361.8 L1072.0,363.3 L1073.5,364.9 L1075.0,366.3 L1076.5,367.8 L1077.0,368.2" fill="none" stroke="#000" stroke-width="3.3" stroke-linejoin="round" clip-path="url(#c244)"/>
<path d="M244.9,276.2 L246.4,276.1 L247.9,276.1 L249.4,276.0 L250.9,275.9 L252.4,275.8 L253.9,275.7 L255.4,275.6 L256.9,275.6 L258.4,275.5 L259.9,275.4 L261.4,275.4 L262.9,275.3 L264.4,275.3 L265.9,275.2 L267.4,275.2 L268.9,275.1 L270.4,275.1 L271.9,275.1 L273.4,275.1 L274.9,275.1 L276.4,275.1 L277.9,275.1 L279.4,275.1 L280.9,275.1 L282.4,275.1 L283.9,275.1 L285.4,275.1 L286.9,275.2 L288.4,275.2 L289.9,275.3 L291.4,275.4 L292.9,275.4 L294.4,275.5 L295.9,275.6 L297.4,275.7 L298.9,275.8 L300.4,275.9 L301.9,276.0 L303.4,276.2 L304.9,276.3 L306.4,276.4 L307.9,276.6 L309.4,276.8 L310.9,277.0 L312.4,277.1 L313.9,277.3 L315.4,277.6 L316.9,277.8 L318.4,278.0 L319.9,278.2 L321.4,278.5 L322.9,278.8 L324.4,279.0 L325.9,279.3 L327.4,279.6 L328.9,279.9 L330.4,280.3 L331.9,280.6 L333.4,281.0 L334.9,281.3 L336.4,281.7 L337.9,282.1 L339.4,282.5 L340.9,282.9 L342.4,283.3 L343.9,283.8 L345.4,284.2 L346.9,284.7 L348.4,285.2 L349.9,285.7 L351.4,286.2 L352.9,286.7 L354.4,287.3 L355.9,287.8 L357.4,288.4 L358.9,289.0 L360.4,289.6 L361.9,290.2 L363.4,290.8 L364.9,291.5 L366.4,292.1 L367.9,292.8 L369.4,293.5 L370.9,294.2 L372.4,295.0 L373.9,295.7 L375.4,296.5 L376.9,297.2 L378.4,298.0 L379.9,298.8 L381.4,299.7 L382.9,300.5 L384.4,301.4 L385.9,302.2 L387.4,303.1 L388.9,304.0 L390.4,305.0 L391.9,305.9 L393.4,306.9 L394.9,307.8 L396.4,308.8 L397.9,309.8 L399.4,310.8 L400.9,311.9 L402.4,312.9 L403.9,313.9 L405.4,315.0 L406.9,316.1 L408.4,317.1 L409.9,318.2 L411.4,319.3 L412.9,320.4 L414.4,321.5 L415.9,322.6 L417.4,323.7 L418.9,324.9 L420.4,326.0 L421.9,327.1 L423.4,328.2 L424.9,329.4 L426.4,330.5 L427.9,331.6 L429.4,332.8 L430.9,333.9 L432.4,335.0 L433.9,336.2 L435.4,337.3 L436.9,338.4 L438.4,339.5 L439.9,340.7 L441.4,341.8 L442.9,342.9 L444.4,344.0 L445.9,345.1 L447.4,346.2 L448.9,347.2 L450.4,348.3 L451.9,349.4 L453.4,350.4 L454.9,351.5 L456.4,352.5 L457.9,353.5 L459.4,354.5 L460.9,355.5 L462.4,356.5 L463.9,357.5 L465.4,358.4 L466.9,359.3 L468.4,360.3 L469.9,361.2 L471.4,362.1 L472.9,362.9 L474.4,363.8 L475.9,364.6 L477.4,365.4 L478.9,366.2 L480.4,367.0 L481.9,367.7 L483.4,368.4 L484.9,369.1 L486.4,369.8 L487.9,370.5 L489.4,371.1 L490.9,371.7 L492.4,372.3 L493.9,372.8 L495.4,373.3 L496.9,373.8 L498.4,374.3 L499.9,374.8 L501.4,375.2 L502.9,375.6 L504.4,376.0 L505.9,376.3 L507.4,376.6 L508.9,377.0 L510.4,377.2 L511.9,377.5 L513.4,377.7 L514.9,378.0 L516.4,378.2 L517.9,378.3 L519.4,378.5 L520.9,378.6 L522.4,378.7 L523.9,378.8 L525.4,378.9 L526.9,379.0 L528.4,379.0 L529.9,379.0 L531.4,379.0 L532.9,379.0 L534.4,379.0 L535.9,378.9 L537.4,378.9 L538.9,378.8 L540.4,378.7 L541.9,378.6 L543.4,378.4 L544.9,378.3 L546.4,378.1 L547.9,378.0 L549.4,377.8 L550.9,377.6 L552.4,377.4 L553.9,377.2 L555.4,376.9 L556.9,376.7 L558.4,376.4 L559.9,376.1 L561.4,375.8 L562.9,375.5 L564.4,375.2 L565.9,374.9 L567.4,374.6 L568.9,374.3" fill="none" stroke="#000" stroke-width="3.0" stroke-dasharray="6.1 5.3"/>
<path d="M746.2,282.7 L747.7,282.7 L749.2,282.6 L750.7,282.6 L752.2,282.5 L753.7,282.4 L755.2,282.4 L756.7,282.3 L758.2,282.3 L759.7,282.3 L761.2,282.2 L762.7,282.2 L764.2,282.2 L765.7,282.2 L767.2,282.1 L768.7,282.1 L770.2,282.1 L771.7,282.1 L773.2,282.1 L774.7,282.2 L776.2,282.2 L777.7,282.2 L779.2,282.2 L780.7,282.3 L782.2,282.3 L783.7,282.4 L785.2,282.4 L786.7,282.5 L788.2,282.6 L789.7,282.7 L791.2,282.8 L792.7,282.9 L794.2,283.0 L795.7,283.1 L797.2,283.2 L798.7,283.3 L800.2,283.5 L801.7,283.6 L803.2,283.8 L804.7,284.0 L806.2,284.2 L807.7,284.4 L809.2,284.6 L810.7,284.8 L812.2,285.0 L813.7,285.2 L815.2,285.5 L816.7,285.7 L818.2,286.0 L819.7,286.3 L821.2,286.6 L822.7,286.9 L824.2,287.2 L825.7,287.5 L827.2,287.9 L828.7,288.2 L830.2,288.6 L831.7,289.0 L833.2,289.4 L834.7,289.8 L836.2,290.2 L837.7,290.7 L839.2,291.1 L840.7,291.6 L842.2,292.1 L843.7,292.6 L845.2,293.1 L846.7,293.6 L848.2,294.1 L849.7,294.7 L851.2,295.2 L852.7,295.8 L854.2,296.4 L855.7,297.0 L857.2,297.7 L858.7,298.3 L860.2,299.0 L861.7,299.7 L863.2,300.3 L864.7,301.0 L866.2,301.8 L867.7,302.5 L869.2,303.3 L870.7,304.0 L872.2,304.8 L873.7,305.6 L875.2,306.4 L876.7,307.3 L878.2,308.1 L879.7,309.0 L881.2,309.8 L882.7,310.7 L884.2,311.6 L885.7,312.6 L887.2,313.5 L888.7,314.5 L890.2,315.4 L891.7,316.4 L893.2,317.4 L894.7,318.4 L896.2,319.5 L897.7,320.5 L899.2,321.6 L900.7,322.7 L902.2,323.7 L903.7,324.8 L905.2,325.9 L906.7,327.1 L908.2,328.2 L909.7,329.3 L911.2,330.4 L912.7,331.6 L914.2,332.7 L915.7,333.9 L917.2,335.0 L918.7,336.2 L920.2,337.3 L921.7,338.5 L923.2,339.6 L924.7,340.8 L926.2,341.9 L927.7,343.1 L929.2,344.2 L930.7,345.3 L932.2,346.5 L933.7,347.6 L935.2,348.7 L936.7,349.8 L938.2,350.9 L939.7,352.0 L941.2,353.1 L942.7,354.2 L944.2,355.3 L945.7,356.4 L947.2,357.4 L948.7,358.5 L950.2,359.5 L951.7,360.5 L953.2,361.5 L954.7,362.5 L956.2,363.5 L957.7,364.5 L959.2,365.4 L960.7,366.4 L962.2,367.3 L963.7,368.2 L965.2,369.1 L966.7,370.0 L968.2,370.8 L969.7,371.6 L971.2,372.5 L972.7,373.2 L974.2,374.0 L975.7,374.8 L977.2,375.5 L978.7,376.2 L980.2,376.9 L981.7,377.6 L983.2,378.2 L984.7,378.8 L986.2,379.4 L987.7,380.0 L989.2,380.5 L990.7,381.0 L992.2,381.5 L993.7,382.0 L995.2,382.4 L996.7,382.8 L998.2,383.2 L999.7,383.5 L1001.2,383.9 L1002.7,384.2 L1004.2,384.5 L1005.7,384.7 L1007.2,385.0 L1008.7,385.2 L1010.2,385.4 L1011.7,385.5 L1013.2,385.7 L1014.7,385.8 L1016.2,385.9 L1017.7,386.0 L1019.2,386.0 L1020.7,386.1 L1022.2,386.1 L1023.7,386.1 L1025.2,386.1 L1026.7,386.1 L1028.2,386.0 L1029.7,385.9 L1031.2,385.8 L1032.7,385.7 L1034.2,385.6 L1035.7,385.5 L1037.2,385.3 L1038.7,385.1 L1040.2,384.9 L1041.7,384.7 L1043.2,384.5 L1044.7,384.3 L1046.2,384.0 L1047.7,383.7 L1049.2,383.5 L1050.7,383.2 L1052.2,382.9 L1053.7,382.5 L1055.2,382.2 L1056.7,381.9 L1058.2,381.5 L1059.7,381.1 L1061.2,380.8 L1062.7,380.4 L1064.2,380.0 L1065.7,379.6 L1067.2,379.1 L1068.7,378.7 L1070.2,378.3 L1071.7,377.8" fill="none" stroke="#000" stroke-width="3.0" stroke-dasharray="6.1 5.3"/>
<path d="M82.0,466.5 H1078.0 M82.0,631.4 H1078.0" fill="none" stroke="#000" stroke-width="1.5"/>
<path d="M83.0,466.5 V631.4 M1077.0,466.5 V631.4" fill="none" stroke="#000" stroke-width="2"/>
<path d="M83.0,550.0 L83.0,502.0 L84.0,502.6 L85.5,503.5 L87.0,504.6 L88.5,505.6 L90.0,506.7 L91.5,507.9 L93.0,509.1 L94.6,510.4 L96.1,511.7 L97.6,513.0 L99.1,514.5 L100.6,515.9 L102.1,517.4 L103.6,518.9 L105.1,520.5 L106.6,522.2 L108.1,523.8 L109.6,525.5 L111.1,527.3 L112.6,529.1 L114.1,530.9 L115.6,532.8 L117.1,534.7 L118.6,536.6 L120.1,538.6 L121.6,540.7 L123.1,542.8 L124.6,545.0 L126.1,547.3 L127.6,550.0 L127.6,550.0Z" fill="#000"/>
<line x1="83" y1="550.0" x2="127.6" y2="550.0" stroke="#000" stroke-width="1.6"/>
<path d="M127.6,550.0 L127.6,550.0 L129.1,552.2 L130.6,554.3 L132.2,556.5 L133.7,558.6 L135.2,560.7 L136.7,562.8 L138.2,564.9 L139.8,566.9 L141.3,568.9 L142.8,570.9 L144.3,572.9 L145.8,574.8 L147.3,576.6 L148.9,578.4 L150.4,580.2 L151.9,581.9 L153.4,583.6 L154.9,585.2 L156.5,586.7 L158.0,588.1 L159.5,589.5 L161.0,590.8 L162.5,592.1 L164.1,593.3 L165.6,594.3 L167.1,595.4 L168.6,596.3 L170.1,597.1 L171.6,597.9 L173.2,598.6 L174.7,599.2 L176.2,599.7 L177.7,600.1 L179.2,600.4 L180.8,600.6 L182.3,600.8 L183.8,600.8 L185.3,600.8 L186.8,600.7 L188.3,600.6 L189.8,600.4 L191.3,600.2 L192.8,599.9 L194.3,599.6 L195.9,599.2 L197.4,598.8 L198.9,598.4 L200.4,597.9 L201.9,597.3 L203.4,596.7 L204.9,596.1 L206.4,595.4 L207.9,594.6 L209.4,593.9 L210.9,593.0 L212.4,592.2 L213.9,591.2 L215.4,590.3 L216.9,589.3 L218.4,588.2 L220.0,587.2 L221.5,586.0 L223.0,584.9 L224.5,583.7 L226.0,582.4 L227.5,581.1 L229.0,579.8 L230.5,578.5 L232.0,577.1 L233.5,575.6 L235.0,574.1 L236.5,572.6 L238.0,571.1 L239.5,569.5 L241.0,567.8 L242.5,566.2 L244.1,564.5 L245.6,562.7 L247.1,560.9 L248.6,559.0 L250.1,557.0 L251.6,555.0 L253.1,552.7 L254.6,550.0 L254.6,550.0Z" fill="#000"/>
<line x1="127.6" y1="550.0" x2="254.6" y2="550.0" stroke="#000" stroke-width="1.6"/>
<path d="M496.2,550.0 L496.2,550.0 L497.7,546.1 L499.3,543.1 L500.8,540.4 L502.3,537.8 L503.8,535.4 L505.4,533.0 L506.9,530.8 L508.4,528.6 L509.9,526.5 L511.5,524.4 L513.0,522.5 L514.5,520.6 L516.0,518.7 L517.6,516.9 L519.1,515.2 L520.6,513.6 L522.1,512.0 L523.7,510.5 L525.2,509.0 L526.7,507.6 L528.2,506.3 L529.8,505.0 L531.3,503.8 L532.8,502.7 L534.3,501.6 L535.9,500.7 L537.4,499.7 L538.9,498.9 L540.4,498.1 L542.0,497.4 L543.5,496.8 L545.0,496.2 L546.5,495.7 L548.1,495.3 L549.6,495.0 L551.1,494.7 L552.6,494.5 L554.2,494.4 L555.7,494.4 L557.2,494.4 L558.7,494.5 L560.3,494.7 L561.8,494.9 L563.3,495.1 L564.8,495.4 L566.3,495.8 L567.8,496.3 L569.4,496.8 L570.9,497.3 L572.4,497.9 L573.9,498.6 L575.4,499.3 L576.9,500.0 L578.5,500.9 L580.0,501.7 L581.5,502.7 L583.0,503.6 L584.5,504.7 L586.0,505.8 L587.6,506.9 L589.1,508.1 L590.6,509.3 L592.1,510.6 L593.6,511.9 L595.2,513.3 L596.7,514.7 L598.2,516.1 L599.7,517.6 L601.2,519.2 L602.7,520.7 L604.3,522.4 L605.8,524.0 L607.3,525.7 L608.8,527.5 L610.3,529.2 L611.8,531.0 L613.4,532.9 L614.9,534.8 L616.4,536.7 L617.9,538.7 L619.4,540.8 L620.9,542.9 L622.5,545.0 L624.0,547.3 L625.5,550.0 L625.5,550.0Z" fill="#000"/>
<line x1="496.2" y1="550.0" x2="625.5" y2="550.0" stroke="#000" stroke-width="1.6"/>
<path d="M625.5,550.0 L625.5,550.0 L627.0,552.2 L628.5,554.2 L630.1,556.2 L631.6,558.1 L633.1,560.0 L634.6,561.9 L636.2,563.7 L637.7,565.5 L639.2,567.2 L640.7,568.9 L642.3,570.6 L643.8,572.2 L645.3,573.8 L646.8,575.4 L648.4,576.9 L649.9,578.3 L651.4,579.7 L652.9,581.1 L654.5,582.4 L656.0,583.6 L657.5,584.8 L659.0,585.9 L660.5,587.0 L662.1,588.0 L663.6,589.0 L665.1,589.8 L666.6,590.6 L668.2,591.4 L669.7,592.1 L671.2,592.7 L672.7,593.2 L674.3,593.7 L675.8,594.1 L677.3,594.4 L678.8,594.7 L680.4,594.9 L681.9,595.0 L683.4,595.0 L684.9,595.0 L686.4,594.9 L687.9,594.7 L689.5,594.4 L691.0,594.1 L692.5,593.8 L694.0,593.3 L695.5,592.8 L697.0,592.2 L698.6,591.6 L700.1,590.9 L701.6,590.1 L703.1,589.2 L704.6,588.3 L706.1,587.4 L707.7,586.4 L709.2,585.3 L710.7,584.1 L712.2,582.9 L713.7,581.7 L715.2,580.4 L716.7,579.0 L718.3,577.6 L719.8,576.1 L721.3,574.6 L722.8,573.1 L724.3,571.5 L725.8,569.8 L727.4,568.1 L728.9,566.4 L730.4,564.6 L731.9,562.7 L733.4,560.8 L734.9,558.9 L736.5,556.9 L738.0,554.8 L739.5,552.6 L741.0,550.0 L741.0,550.0Z" fill="#000"/>
<line x1="625.5" y1="550.0" x2="741" y2="550.0" stroke="#000" stroke-width="1.6"/>
<path d="M1001.0,550.0 L1001.0,550.0 L1001.8,548.9 L1002.5,547.8 L1003.2,546.7 L1004.0,545.6 L1004.8,544.5 L1005.5,543.4 L1006.2,542.3 L1007.0,541.2 L1007.8,540.0 L1008.5,538.9 L1009.2,537.8 L1010.0,536.7 L1010.8,535.6 L1011.5,534.5 L1012.2,533.4 L1013.0,532.2 L1013.8,531.1 L1014.5,530.0 L1015.2,528.8 L1016.0,527.7 L1016.8,526.5 L1017.5,525.3 L1018.2,524.1 L1019.0,522.9 L1019.8,521.7 L1020.5,520.6 L1021.2,519.4 L1022.0,518.3 L1022.8,517.2 L1023.5,516.1 L1024.2,515.1 L1025.0,514.1 L1025.8,513.2 L1026.5,512.3 L1027.2,511.4 L1028.0,510.5 L1028.8,509.7 L1029.5,508.9 L1030.2,508.1 L1031.0,507.4 L1031.8,506.8 L1032.5,506.2 L1033.2,505.6 L1034.0,505.0 L1034.8,504.5 L1035.5,504.0 L1036.2,503.6 L1037.0,503.2 L1037.8,502.9 L1038.5,502.6 L1039.2,502.4 L1040.0,502.1 L1040.8,501.9 L1041.5,501.6 L1042.2,501.5 L1043.0,501.3 L1043.8,501.1 L1044.5,501.0 L1045.2,500.9 L1046.0,500.7 L1046.8,500.6 L1047.5,500.5 L1048.2,500.4 L1049.0,500.3 L1049.8,500.2 L1050.5,500.1 L1051.2,500.1 L1052.0,500.0 L1052.8,500.0 L1053.5,499.9 L1054.2,499.9 L1055.0,499.9 L1055.8,499.9 L1056.5,499.9 L1057.2,499.9 L1058.0,499.9 L1058.8,500.0 L1059.5,500.0 L1060.2,500.1 L1061.0,500.2 L1061.8,500.2 L1062.5,500.3 L1063.2,500.4 L1064.0,500.5 L1064.8,500.6 L1065.5,500.7 L1066.2,500.8 L1067.0,500.8 L1067.8,500.9 L1068.5,501.0 L1069.2,501.1 L1070.0,501.2 L1070.8,501.3 L1071.5,501.4 L1072.2,501.6 L1073.0,501.7 L1073.8,501.8 L1074.5,501.9 L1075.2,502.1 L1076.0,502.2 L1076.8,502.4 L1077.0,502.4 L1077.0,550.0Z" fill="#000"/>
<line x1="1001.0" y1="550.0" x2="1077" y2="550.0" stroke="#000" stroke-width="1.6"/>
<clipPath id="c466"><rect x="83.0" y="466.5" width="994.0" height="164.89999999999998"/></clipPath>
<path d="M83.0,502.0 L84.0,502.6 L85.5,503.5 L87.0,504.6 L88.5,505.6 L90.0,506.7 L91.5,507.9 L93.0,509.1 L94.6,510.4 L96.1,511.7 L97.6,513.0 L99.1,514.5 L100.6,515.9 L102.1,517.4 L103.6,518.9 L105.1,520.5 L106.6,522.2 L108.1,523.8 L109.6,525.5 L111.1,527.3 L112.6,529.1 L114.1,530.9 L115.6,532.8 L117.1,534.7 L118.6,536.6 L120.1,538.6 L121.6,540.7 L123.1,542.8 L124.6,545.0 L126.1,547.3 L127.6,550.0 L129.1,552.2 L130.6,554.3 L132.2,556.5 L133.7,558.6 L135.2,560.7 L136.7,562.8 L138.2,564.9 L139.8,566.9 L141.3,568.9 L142.8,570.9 L144.3,572.9 L145.8,574.8 L147.3,576.6 L148.9,578.4 L150.4,580.2 L151.9,581.9 L153.4,583.6 L154.9,585.2 L156.5,586.7 L158.0,588.1 L159.5,589.5 L161.0,590.8 L162.5,592.1 L164.1,593.3 L165.6,594.3 L167.1,595.4 L168.6,596.3 L170.1,597.1 L171.6,597.9 L173.2,598.6 L174.7,599.2 L176.2,599.7 L177.7,600.1 L179.2,600.4 L180.8,600.6 L182.3,600.8 L183.8,600.8 L185.3,600.8 L186.8,600.7 L188.3,600.6 L189.8,600.4 L191.3,600.2 L192.8,599.9 L194.3,599.6 L195.9,599.2 L197.4,598.8 L198.9,598.4 L200.4,597.9 L201.9,597.3 L203.4,596.7 L204.9,596.1 L206.4,595.4 L207.9,594.6 L209.4,593.9 L210.9,593.0 L212.4,592.2 L213.9,591.2 L215.4,590.3 L216.9,589.3 L218.4,588.2 L220.0,587.2 L221.5,586.0 L223.0,584.9 L224.5,583.7 L226.0,582.4 L227.5,581.1 L229.0,579.8 L230.5,578.5 L232.0,577.1 L233.5,575.6 L235.0,574.1 L236.5,572.6 L238.0,571.1 L239.5,569.5 L241.0,567.8 L242.5,566.2 L244.1,564.5 L245.6,562.7 L247.1,560.9 L248.6,559.0 L250.1,557.0 L251.6,555.0 L253.1,552.7 L254.6,550.0 L256.1,548.0 L257.6,546.1 L259.2,544.1 L260.7,542.2 L262.2,540.3 L263.7,538.3 L265.3,536.5 L266.8,534.6 L268.3,532.7 L269.8,530.9 L271.4,529.1 L272.9,527.4 L274.4,525.6 L275.9,524.0 L277.4,522.3 L279.0,520.7 L280.5,519.2 L282.0,517.7 L283.5,516.3 L285.1,514.9 L286.6,513.5 L288.1,512.3 L289.6,511.1 L291.2,509.9 L292.7,508.8 L294.2,507.8 L295.7,506.9 L297.2,506.0 L298.8,505.2 L300.3,504.5 L301.8,503.8 L303.3,503.2 L304.9,502.7 L306.4,502.3 L307.9,501.9 L309.4,501.7 L311.0,501.5 L312.5,501.3 L314.0,501.3 L315.5,501.3 L317.1,501.5 L318.6,501.7 L320.1,501.9 L321.6,502.3 L323.2,502.7 L324.7,503.2 L326.2,503.8 L327.8,504.5 L329.3,505.2 L330.8,506.0 L332.3,506.9 L333.9,507.8 L335.4,508.8 L336.9,509.9 L338.5,511.1 L340.0,512.3 L341.5,513.5 L343.0,514.9 L344.6,516.3 L346.1,517.7 L347.6,519.2 L349.1,520.7 L350.7,522.3 L352.2,524.0 L353.7,525.6 L355.3,527.4 L356.8,529.1 L358.3,530.9 L359.8,532.7 L361.4,534.6 L362.9,536.5 L364.4,538.3 L366.0,540.3 L367.5,542.2 L369.0,544.1 L370.5,546.1 L372.1,548.0 L373.6,550.0 L375.1,551.7 L376.7,553.4 L378.2,555.1 L379.7,556.8 L381.3,558.4 L382.8,560.1 L384.3,561.7 L385.9,563.3 L387.4,565.0 L388.9,566.5 L390.5,568.1 L392.0,569.6 L393.5,571.1 L395.1,572.6 L396.6,574.0 L398.1,575.4 L399.7,576.7 L401.2,578.1 L402.7,579.3 L404.2,580.5 L405.8,581.7 L407.3,582.8 L408.8,583.9 L410.4,584.9 L411.9,585.9 L413.4,586.8 L415.0,587.7 L416.5,588.5 L418.0,589.2 L419.6,589.9 L421.1,590.5 L422.6,591.1 L424.2,591.6 L425.7,592.0 L427.2,592.4 L428.8,592.7 L430.3,592.9 L431.8,593.1 L433.4,593.2 L434.9,593.2 L436.4,593.2 L438.0,593.1 L439.5,592.9 L441.0,592.7 L442.6,592.4 L444.1,592.0 L445.6,591.6 L447.2,591.1 L448.7,590.5 L450.2,589.9 L451.8,589.2 L453.3,588.5 L454.8,587.7 L456.4,586.8 L457.9,585.9 L459.4,584.9 L461.0,583.9 L462.5,582.8 L464.0,581.7 L465.5,580.5 L467.1,579.3 L468.6,578.1 L470.1,576.7 L471.7,575.4 L473.2,574.0 L474.7,572.6 L476.3,571.1 L477.8,569.6 L479.3,568.1 L480.9,566.5 L482.4,565.0 L483.9,563.3 L485.5,561.7 L487.0,560.1 L488.5,558.4 L490.1,556.8 L491.6,555.1 L493.1,553.4 L494.7,551.7 L496.2,550.0 L497.7,546.1 L499.3,543.1 L500.8,540.4 L502.3,537.8 L503.8,535.4 L505.4,533.0 L506.9,530.8 L508.4,528.6 L509.9,526.5 L511.5,524.4 L513.0,522.5 L514.5,520.6 L516.0,518.7 L517.6,516.9 L519.1,515.2 L520.6,513.6 L522.1,512.0 L523.7,510.5 L525.2,509.0 L526.7,507.6 L528.2,506.3 L529.8,505.0 L531.3,503.8 L532.8,502.7 L534.3,501.6 L535.9,500.7 L537.4,499.7 L538.9,498.9 L540.4,498.1 L542.0,497.4 L543.5,496.8 L545.0,496.2 L546.5,495.7 L548.1,495.3 L549.6,495.0 L551.1,494.7 L552.6,494.5 L554.2,494.4 L555.7,494.4 L557.2,494.4 L558.7,494.5 L560.3,494.7 L561.8,494.9 L563.3,495.1 L564.8,495.4 L566.3,495.8 L567.8,496.3 L569.4,496.8 L570.9,497.3 L572.4,497.9 L573.9,498.6 L575.4,499.3 L576.9,500.0 L578.5,500.9 L580.0,501.7 L581.5,502.7 L583.0,503.6 L584.5,504.7 L586.0,505.8 L587.6,506.9 L589.1,508.1 L590.6,509.3 L592.1,510.6 L593.6,511.9 L595.2,513.3 L596.7,514.7 L598.2,516.1 L599.7,517.6 L601.2,519.2 L602.7,520.7 L604.3,522.4 L605.8,524.0 L607.3,525.7 L608.8,527.5 L610.3,529.2 L611.8,531.0 L613.4,532.9 L614.9,534.8 L616.4,536.7 L617.9,538.7 L619.4,540.8 L620.9,542.9 L622.5,545.0 L624.0,547.3 L625.5,550.0 L627.0,552.2 L628.5,554.2 L630.1,556.2 L631.6,558.1 L633.1,560.0 L634.6,561.9 L636.2,563.7 L637.7,565.5 L639.2,567.2 L640.7,568.9 L642.3,570.6 L643.8,572.2 L645.3,573.8 L646.8,575.4 L648.4,576.9 L649.9,578.3 L651.4,579.7 L652.9,581.1 L654.5,582.4 L656.0,583.6 L657.5,584.8 L659.0,585.9 L660.5,587.0 L662.1,588.0 L663.6,589.0 L665.1,589.8 L666.6,590.6 L668.2,591.4 L669.7,592.1 L671.2,592.7 L672.7,593.2 L674.3,593.7 L675.8,594.1 L677.3,594.4 L678.8,594.7 L680.4,594.9 L681.9,595.0 L683.4,595.0 L684.9,595.0 L686.4,594.9 L687.9,594.7 L689.5,594.4 L691.0,594.1 L692.5,593.8 L694.0,593.3 L695.5,592.8 L697.0,592.2 L698.6,591.6 L700.1,590.9 L701.6,590.1 L703.1,589.2 L704.6,588.3 L706.1,587.4 L707.7,586.4 L709.2,585.3 L710.7,584.1 L712.2,582.9 L713.7,581.7 L715.2,580.4 L716.7,579.0 L718.3,577.6 L719.8,576.1 L721.3,574.6 L722.8,573.1 L724.3,571.5 L725.8,569.8 L727.4,568.1 L728.9,566.4 L730.4,564.6 L731.9,562.7 L733.4,560.8 L734.9,558.9 L736.5,556.9 L738.0,554.8 L739.5,552.6 L741.0,550.0 L742.5,547.9 L744.0,545.8 L745.5,543.7 L747.0,541.6 L748.5,539.6 L750.0,537.5 L751.5,535.5 L753.0,533.4 L754.5,531.4 L756.0,529.5 L757.5,527.5 L759.0,525.6 L760.5,523.7 L762.0,521.9 L763.5,520.1 L765.0,518.3 L766.5,516.6 L768.0,515.0 L769.5,513.3 L771.0,511.8 L772.5,510.3 L774.0,508.8 L775.5,507.4 L777.0,506.1 L778.5,504.8 L780.0,503.6 L781.5,502.4 L783.0,501.3 L784.5,500.3 L786.0,499.4 L787.5,498.5 L789.0,497.7 L790.5,497.0 L792.0,496.3 L793.5,495.7 L795.0,495.2 L796.5,494.8 L798.0,494.4 L799.5,494.2 L801.0,494.0 L802.5,493.8 L804.0,493.8 L805.5,493.8 L807.0,493.9 L808.5,494.1 L810.0,494.4 L811.5,494.7 L813.1,495.1 L814.6,495.5 L816.1,496.1 L817.6,496.7 L819.1,497.3 L820.6,498.1 L822.1,498.9 L823.6,499.7 L825.1,500.7 L826.6,501.7 L828.1,502.7 L829.7,503.8 L831.2,505.0 L832.7,506.2 L834.2,507.5 L835.7,508.9 L837.2,510.3 L838.7,511.7 L840.2,513.2 L841.7,514.7 L843.2,516.3 L844.7,517.9 L846.3,519.6 L847.8,521.3 L849.3,523.1 L850.8,524.8 L852.3,526.7 L853.8,528.5 L855.3,530.4 L856.8,532.3 L858.3,534.2 L859.8,536.1 L861.3,538.1 L862.9,540.0 L864.4,542.0 L865.9,544.0 L867.4,546.0 L868.9,548.0 L870.4,550.0 L871.9,552.0 L873.5,553.9 L875.0,555.8 L876.5,557.8 L878.1,559.7 L879.6,561.6 L881.1,563.5 L882.7,565.4 L884.2,567.2 L885.7,569.1 L887.3,570.9 L888.8,572.6 L890.3,574.4 L891.9,576.1 L893.4,577.7 L894.9,579.3 L896.5,580.9 L898.0,582.4 L899.5,583.9 L901.1,585.4 L902.6,586.7 L904.2,588.1 L905.7,589.3 L907.2,590.6 L908.8,591.7 L910.3,592.8 L911.8,593.8 L913.4,594.8 L914.9,595.7 L916.4,596.5 L918.0,597.3 L919.5,598.0 L921.0,598.6 L922.6,599.2 L924.1,599.7 L925.6,600.1 L927.2,600.4 L928.7,600.7 L930.2,600.9 L931.8,601.0 L933.3,601.0 L934.8,601.0 L936.3,600.9 L937.8,600.7 L939.3,600.5 L940.8,600.2 L942.3,599.9 L943.8,599.5 L945.3,599.0 L946.8,598.5 L948.3,597.9 L949.8,597.3 L951.4,596.6 L952.9,595.8 L954.4,595.0 L955.9,594.2 L957.4,593.3 L958.9,592.3 L960.4,591.3 L961.9,590.2 L963.4,589.1 L964.9,587.9 L966.4,586.7 L967.9,585.4 L969.4,584.1 L970.9,582.8 L972.4,581.4 L973.9,580.0 L975.4,578.5 L976.9,577.0 L978.4,575.5 L979.9,573.9 L981.4,572.4 L982.9,570.7 L984.5,569.1 L986.0,567.4 L987.5,565.8 L989.0,564.1 L990.5,562.3 L992.0,560.6 L993.5,558.9 L995.0,557.1 L996.5,555.3 L998.0,553.6 L999.5,551.8 L1001.0,550.0 L1001.8,548.9 L1002.5,547.8 L1003.2,546.7 L1004.0,545.6 L1004.8,544.5 L1005.5,543.4 L1006.2,542.3 L1007.0,541.2 L1007.8,540.0 L1008.5,538.9 L1009.2,537.8 L1010.0,536.7 L1010.8,535.6 L1011.5,534.5 L1012.2,533.4 L1013.0,532.2 L1013.8,531.1 L1014.5,530.0 L1015.2,528.8 L1016.0,527.7 L1016.8,526.5 L1017.5,525.3 L1018.2,524.1 L1019.0,522.9 L1019.8,521.7 L1020.5,520.6 L1021.2,519.4 L1022.0,518.3 L1022.8,517.2 L1023.5,516.1 L1024.2,515.1 L1025.0,514.1 L1025.8,513.2 L1026.5,512.3 L1027.2,511.4 L1028.0,510.5 L1028.8,509.7 L1029.5,508.9 L1030.2,508.1 L1031.0,507.4 L1031.8,506.8 L1032.5,506.2 L1033.2,505.6 L1034.0,505.0 L1034.8,504.5 L1035.5,504.0 L1036.2,503.6 L1037.0,503.2 L1037.8,502.9 L1038.5,502.6 L1039.2,502.4 L1040.0,502.1 L1040.8,501.9 L1041.5,501.6 L1042.2,501.5 L1043.0,501.3 L1043.8,501.1 L1044.5,501.0 L1045.2,500.9 L1046.0,500.7 L1046.8,500.6 L1047.5,500.5 L1048.2,500.4 L1049.0,500.3 L1049.8,500.2 L1050.5,500.1 L1051.2,500.1 L1052.0,500.0 L1052.8,500.0 L1053.5,499.9 L1054.2,499.9 L1055.0,499.9 L1055.8,499.9 L1056.5,499.9 L1057.2,499.9 L1058.0,499.9 L1058.8,500.0 L1059.5,500.0 L1060.2,500.1 L1061.0,500.2 L1061.8,500.2 L1062.5,500.3 L1063.2,500.4 L1064.0,500.5 L1064.8,500.6 L1065.5,500.7 L1066.2,500.8 L1067.0,500.8 L1067.8,500.9 L1068.5,501.0 L1069.2,501.1 L1070.0,501.2 L1070.8,501.3 L1071.5,501.4 L1072.2,501.6 L1073.0,501.7 L1073.8,501.8 L1074.5,501.9 L1075.2,502.1 L1076.0,502.2 L1076.8,502.4 L1077.0,502.4" fill="none" stroke="#000" stroke-width="3.3" stroke-linejoin="round" clip-path="url(#c466)"/>
<path d="M214.0,594.2 L215.5,594.7 L217.0,595.1 L218.5,595.5 L220.0,595.9 L221.5,596.3 L223.0,596.7 L224.5,597.0 L226.0,597.4 L227.5,597.7 L229.0,598.0 L230.5,598.4 L232.0,598.7 L233.5,599.0 L235.0,599.2 L236.5,599.5 L238.0,599.7 L239.5,600.0 L241.0,600.2 L242.5,600.4 L244.0,600.6 L245.5,600.8 L247.0,601.0 L248.5,601.1 L250.0,601.3 L251.5,601.4 L253.0,601.5 L254.5,601.6 L256.0,601.6 L257.5,601.7 L259.0,601.7 L260.5,601.8 L262.0,601.8 L263.5,601.8 L265.0,601.7 L266.5,601.7 L268.0,601.6 L269.5,601.5 L271.0,601.5 L272.5,601.3 L274.0,601.2 L275.5,601.0 L277.0,600.9 L278.5,600.7 L280.0,600.5 L281.5,600.2 L283.0,600.0 L284.5,599.7 L286.0,599.4 L287.5,599.1 L289.0,598.8 L290.5,598.4 L292.0,598.1 L293.5,597.7 L295.0,597.3 L296.5,596.8 L298.0,596.4 L299.5,595.9 L301.0,595.4 L302.5,594.9 L304.0,594.3 L305.5,593.7 L307.0,593.2 L308.5,592.5 L310.0,591.9 L311.5,591.2 L313.0,590.6 L314.5,589.8 L316.0,589.1 L317.5,588.4 L319.0,587.6 L320.5,586.8 L322.0,586.0 L323.5,585.2 L325.0,584.3 L326.5,583.4 L328.0,582.5 L329.5,581.6 L331.0,580.7 L332.5,579.7 L334.0,578.7 L335.5,577.7 L337.0,576.7 L338.5,575.7 L340.0,574.6 L341.5,573.5 L343.0,572.4 L344.5,571.3 L346.0,570.2 L347.5,569.0 L349.0,567.9 L350.5,566.7 L352.0,565.5 L353.5,564.4 L355.0,563.2 L356.5,562.0 L358.0,560.8 L359.5,559.6 L361.0,558.3 L362.5,557.1 L364.0,555.9 L365.5,554.7 L367.0,553.5 L368.5,552.3 L370.0,551.1 L371.5,549.9 L373.0,548.8 L374.5,547.6 L376.0,546.4 L377.5,545.3 L379.0,544.1 L380.5,543.0 L382.0,541.9 L383.5,540.7 L385.0,539.6 L386.5,538.5 L388.0,537.4 L389.5,536.4 L391.0,535.3 L392.5,534.2 L394.0,533.2 L395.5,532.2 L397.0,531.1 L398.5,530.1 L400.0,529.1 L401.5,528.2 L403.0,527.2 L404.5,526.2 L406.0,525.3 L407.5,524.4 L409.0,523.4 L410.5,522.5 L412.0,521.6 L413.5,520.8 L415.0,519.9 L416.5,519.1 L418.0,518.2 L419.5,517.4 L421.0,516.6 L422.5,515.8 L424.0,515.1 L425.5,514.3 L427.0,513.6 L428.5,512.9 L430.0,512.2 L431.5,511.5 L433.0,510.9 L434.5,510.2 L436.0,509.6 L437.5,509.0 L439.0,508.4 L440.5,507.8 L442.0,507.3 L443.5,506.8 L445.0,506.2 L446.5,505.8 L448.0,505.3 L449.5,504.8 L451.0,504.4 L452.5,504.0 L454.0,503.6 L455.5,503.3 L457.0,502.9 L458.5,502.6 L460.0,502.2 L461.5,501.9 L463.0,501.7 L464.5,501.4 L466.0,501.1 L467.5,500.9 L469.0,500.7 L470.5,500.5 L472.0,500.3 L473.5,500.1 L475.0,499.9 L476.5,499.7 L478.0,499.6 L479.5,499.4 L481.0,499.3 L482.5,499.2 L484.0,499.1 L485.5,499.0 L487.0,498.9 L488.5,498.8 L490.0,498.7 L491.5,498.7 L493.0,498.6 L494.5,498.5 L496.0,498.5 L497.5,498.4 L499.0,498.4 L500.5,498.4 L502.0,498.3 L503.5,498.3 L505.0,498.3 L506.5,498.2 L508.0,498.2 L509.5,498.2 L511.0,498.2 L512.5,498.2 L514.0,498.1 L515.5,498.1 L517.0,498.1 L518.5,498.1 L520.0,498.0 L521.5,498.0 L523.0,498.0 L524.5,498.0 L526.0,497.9 L527.5,497.9 L529.0,497.8 L530.5,497.8 L532.0,497.7 L533.5,497.7 L535.0,497.6 L536.5,497.5 L538.0,497.5" fill="none" stroke="#000" stroke-width="3.0" stroke-dasharray="6.1 5.3"/>
<path d="M693.7,596.0 L695.2,596.5 L696.7,597.0 L698.2,597.5 L699.7,598.0 L701.2,598.5 L702.7,599.0 L704.2,599.4 L705.7,599.9 L707.2,600.3 L708.7,600.7 L710.2,601.1 L711.7,601.5 L713.2,601.8 L714.7,602.2 L716.2,602.5 L717.7,602.9 L719.2,603.2 L720.7,603.5 L722.2,603.7 L723.7,604.0 L725.2,604.2 L726.7,604.5 L728.2,604.7 L729.7,604.9 L731.2,605.1 L732.7,605.2 L734.2,605.4 L735.7,605.5 L737.2,605.6 L738.7,605.7 L740.2,605.8 L741.7,605.9 L743.2,605.9 L744.7,605.9 L746.2,605.9 L747.7,605.9 L749.2,605.9 L750.7,605.9 L752.2,605.8 L753.7,605.7 L755.2,605.6 L756.7,605.5 L758.2,605.3 L759.7,605.2 L761.2,605.0 L762.7,604.8 L764.2,604.6 L765.7,604.3 L767.2,604.1 L768.7,603.8 L770.2,603.5 L771.7,603.2 L773.2,602.8 L774.7,602.5 L776.2,602.1 L777.7,601.7 L779.2,601.3 L780.7,600.8 L782.2,600.3 L783.7,599.9 L785.2,599.3 L786.7,598.8 L788.2,598.2 L789.7,597.7 L791.2,597.1 L792.7,596.4 L794.2,595.8 L795.7,595.1 L797.2,594.4 L798.7,593.7 L800.2,593.0 L801.7,592.2 L803.2,591.4 L804.7,590.6 L806.2,589.8 L807.7,589.0 L809.2,588.1 L810.7,587.3 L812.2,586.4 L813.7,585.5 L815.2,584.5 L816.7,583.6 L818.2,582.6 L819.7,581.7 L821.2,580.7 L822.7,579.7 L824.2,578.7 L825.7,577.6 L827.2,576.6 L828.7,575.5 L830.2,574.5 L831.7,573.4 L833.2,572.3 L834.7,571.2 L836.2,570.1 L837.7,569.0 L839.2,567.8 L840.7,566.7 L842.2,565.6 L843.7,564.4 L845.2,563.3 L846.7,562.1 L848.2,561.0 L849.7,559.8 L851.2,558.7 L852.7,557.5 L854.2,556.4 L855.7,555.2 L857.2,554.1 L858.7,552.9 L860.2,551.8 L861.7,550.7 L863.2,549.5 L864.7,548.4 L866.2,547.3 L867.7,546.2 L869.2,545.1 L870.7,544.0 L872.2,542.9 L873.7,541.8 L875.2,540.8 L876.7,539.7 L878.2,538.7 L879.7,537.6 L881.2,536.6 L882.7,535.6 L884.2,534.6 L885.7,533.6 L887.2,532.7 L888.7,531.7 L890.2,530.8 L891.7,529.9 L893.2,528.9 L894.7,528.1 L896.2,527.2 L897.7,526.3 L899.2,525.5 L900.7,524.6 L902.2,523.8 L903.7,523.0 L905.2,522.3 L906.7,521.5 L908.2,520.7 L909.7,520.0 L911.2,519.3 L912.7,518.6 L914.2,517.9 L915.7,517.2 L917.2,516.6 L918.7,515.9 L920.2,515.3 L921.7,514.7 L923.2,514.1 L924.7,513.5 L926.2,512.9 L927.7,512.4 L929.2,511.8 L930.7,511.3 L932.2,510.8 L933.7,510.3 L935.2,509.9 L936.7,509.4 L938.2,509.0 L939.7,508.5 L941.2,508.1 L942.7,507.7 L944.2,507.3 L945.7,507.0 L947.2,506.6 L948.7,506.3 L950.2,505.9 L951.7,505.6 L953.2,505.3 L954.7,505.0 L956.2,504.8 L957.7,504.5 L959.2,504.3 L960.7,504.0 L962.2,503.8 L963.7,503.6 L965.2,503.4 L966.7,503.2 L968.2,503.0 L969.7,502.9 L971.2,502.7 L972.7,502.6 L974.2,502.4 L975.7,502.3 L977.2,502.2 L978.7,502.1 L980.2,502.0 L981.7,501.9 L983.2,501.8 L984.7,501.8 L986.2,501.7 L987.7,501.6 L989.2,501.6 L990.7,501.6 L992.2,501.5 L993.7,501.5 L995.2,501.5 L996.7,501.5 L998.2,501.5 L999.7,501.5 L1001.2,501.5 L1002.7,501.5 L1004.2,501.6 L1005.7,501.6 L1007.2,501.6 L1008.7,501.7 L1010.2,501.7 L1011.7,501.8 L1013.2,501.8 L1014.7,501.9 L1016.2,501.9 L1017.7,502.0 L1019.2,502.1 L1020.7,502.1 L1022.2,502.2 L1023.7,502.3 L1025.2,502.4 L1026.7,502.5 L1028.2,502.6 L1029.7,502.6" fill="none" stroke="#000" stroke-width="3.0" stroke-dasharray="6.1 5.3"/>
<line x1="206" y1="44" x2="262" y2="44" stroke="#000" stroke-width="1.5"/>
<line x1="859.2" y1="52.7" x2="882" y2="52.7" stroke="#000" stroke-width="1.5"/>
<line x1="281" y1="274" x2="361" y2="274" stroke="#000" stroke-width="1.5"/>
<line x1="897.3" y1="273.6" x2="961" y2="275.6" stroke="#000" stroke-width="1.5"/>
<line x1="365.8" y1="510.2" x2="437" y2="510.2" stroke="#000" stroke-width="1.5"/>
<line x1="819" y1="494.3" x2="835.6" y2="490" stroke="#000" stroke-width="1.5"/>
<g font-family="'Liberation Serif', serif" fill="#111" opacity="0.99">
<text transform="translate(268.76,48.60) scale(1.014,1.04)" font-size="27.5">s</text>
<text transform="translate(282.84,48.60) scale(0.900,1.04)" font-size="27.5">i</text>
<text transform="translate(288.32,48.60) scale(1.070,1.04)" font-size="27.5">n</text>
<text transform="translate(304.23,48.60) scale(0.900,1.04)" font-size="27.5">(</text>
<text transform="translate(313.47,48.60) scale(0.956,1.04)" font-size="27.5">5</text>
<text transform="translate(326.57,48.60) scale(1.081,1.04)" font-size="27.5">0</text>
<text transform="translate(343.04,46.80) scale(1.109,1)" font-size="23.5">π</text>
<text transform="translate(359.32,48.60) scale(1.180,1.04)" font-size="27.5">t</text>
<text transform="translate(371.93,48.60) scale(0.900,1.04)" font-size="27.5">)</text>
<text transform="translate(732.69,50.10) scale(1.072,1.04)" font-size="27.5">s</text>
<text transform="translate(746.24,50.10) scale(0.900,1.04)" font-size="27.5">i</text>
<text transform="translate(751.67,50.10) scale(1.149,1.04)" font-size="27.5">n</text>
<text transform="translate(768.93,50.10) scale(0.900,1.04)" font-size="27.5">(</text>
<text transform="translate(776.37,50.10) scale(0.900,1.04)" font-size="27.5">1</text>
<text transform="translate(788.31,50.10) scale(1.046,1.04)" font-size="27.5">0</text>
<text transform="translate(803.73,50.10) scale(1.115,1.04)" font-size="27.5">0</text>
<text transform="translate(825.89,48.30) scale(0.930,1)" font-size="23.5">π</text>
<text transform="translate(838.48,50.10) scale(1.166,1.04)" font-size="27.5">t</text>
<text transform="translate(849.03,50.10) scale(0.900,1.04)" font-size="27.5">)</text>
<text transform="translate(367.46,278.10) scale(1.300,1.04)" font-size="27.5">s</text>
<text transform="translate(385.14,278.10) scale(0.900,1.04)" font-size="27.5">i</text>
<text transform="translate(390.63,278.10) scale(1.212,1.04)" font-size="27.5">n</text>
<text transform="translate(407.22,278.10) scale(0.976,1.04)" font-size="27.5">(</text>
<text transform="translate(417.47,278.10) scale(0.956,1.04)" font-size="27.5">5</text>
<text transform="translate(431.28,278.10) scale(1.072,1.04)" font-size="27.5">0</text>
<text transform="translate(447.87,276.30) scale(1.001,1)" font-size="23.5">π</text>
<text transform="translate(461.17,278.10) scale(1.180,1.04)" font-size="27.5">t</text>
<text transform="translate(475.86,278.10) scale(0.900,1.04)" font-size="27.5">−</text>
<text transform="translate(489.90,276.30) scale(0.903,1)" font-size="23.5">π</text>
<line x1="502.20" y1="280.90" x2="515.10" y2="254.80" stroke="#111" stroke-width="1.5"/>
<text transform="translate(516.65,278.10) scale(1.101,1.04)" font-size="27.5">3</text>
<text transform="translate(537.25,278.10) scale(0.962,1.04)" font-size="27.5">)</text>
<text transform="translate(677.77,276.20) scale(1.177,1.04)" font-size="27.5">s</text>
<text transform="translate(692.83,276.20) scale(0.900,1.04)" font-size="27.5">i</text>
<text transform="translate(698.29,276.20) scale(1.118,1.04)" font-size="27.5">n</text>
<text transform="translate(714.99,276.20) scale(0.920,1.04)" font-size="27.5">(</text>
<text transform="translate(722.37,276.20) scale(0.900,1.04)" font-size="27.5">1</text>
<text transform="translate(734.60,276.20) scale(1.055,1.04)" font-size="27.5">0</text>
<text transform="translate(749.87,276.20) scale(1.081,1.04)" font-size="27.5">0</text>
<text transform="translate(771.86,274.40) scale(1.019,1)" font-size="23.5">π</text>
<text transform="translate(785.79,276.20) scale(1.138,1.04)" font-size="27.5">t</text>
<text transform="translate(801.01,276.20) scale(1.009,1.04)" font-size="27.5">−</text>
<text transform="translate(816.00,276.20) scale(1.161,1.04)" font-size="27.5">2</text>
<text transform="translate(833.29,271.40) scale(0.930,1)" font-size="23.5">π</text>
<line x1="846.30" y1="279.00" x2="859.90" y2="252.90" stroke="#111" stroke-width="1.5"/>
<text transform="translate(861.08,276.20) scale(1.004,1.04)" font-size="27.5">3</text>
<text transform="translate(877.68,276.20) scale(0.900,1.04)" font-size="27.5">)</text>
<text transform="translate(168.81,501.60) scale(1.142,1.04)" font-size="27.5">s</text>
<text transform="translate(183.13,501.60) scale(0.900,1.04)" font-size="27.5">i</text>
<text transform="translate(188.88,501.60) scale(1.141,1.04)" font-size="27.5">n</text>
<text transform="translate(206.24,501.60) scale(0.962,1.04)" font-size="27.5">(</text>
<text transform="translate(215.64,499.10) scale(1.101,1.04)" font-size="27.5">5</text>
<text transform="translate(230.22,499.10) scale(1.132,1.04)" font-size="27.5">0</text>
<text transform="translate(247.61,497.30) scale(0.867,1)" font-size="23.5">π</text>
<text transform="translate(260.87,499.10) scale(1.180,1.04)" font-size="27.5">t</text>
<text transform="translate(276.98,500.10) scale(1.032,1.04)" font-size="27.5">−</text>
<text transform="translate(293.16,500.10) scale(1.068,1.04)" font-size="27.5">7</text>
<text transform="translate(309.88,498.30) scale(0.974,1)" font-size="23.5">π</text>
<line x1="329.70" y1="502.90" x2="343.50" y2="476.80" stroke="#111" stroke-width="1.5"/>
<text transform="translate(344.70,500.10) scale(1.013,1.04)" font-size="27.5">6</text>
<text transform="translate(358.68,500.10) scale(0.900,1.04)" font-size="27.5">)</text>
<text transform="translate(835.96,493.00) scale(1.096,1.04)" font-size="27.5">s</text>
<text transform="translate(849.88,493.00) scale(0.900,1.04)" font-size="27.5">i</text>
<text transform="translate(855.58,493.00) scale(1.133,1.04)" font-size="27.5">n</text>
<text transform="translate(872.94,493.00) scale(0.962,1.04)" font-size="27.5">(</text>
<text transform="translate(880.07,493.00) scale(0.900,1.04)" font-size="27.5">1</text>
<text transform="translate(892.03,493.00) scale(1.021,1.04)" font-size="27.5">0</text>
<text transform="translate(907.26,493.00) scale(1.089,1.04)" font-size="27.5">0</text>
<text transform="translate(930.81,491.20) scale(0.867,1)" font-size="23.5">π</text>
<text transform="translate(944.07,493.00) scale(1.180,1.04)" font-size="27.5">t</text>
<text transform="translate(958.98,493.00) scale(1.032,1.04)" font-size="27.5">+</text>
<text transform="translate(974.39,493.00) scale(1.079,1.04)" font-size="27.5">2</text>
<text transform="translate(989.18,488.20) scale(0.983,1)" font-size="23.5">π</text>
<line x1="1002.70" y1="495.80" x2="1016.50" y2="469.70" stroke="#111" stroke-width="1.5"/>
<text transform="translate(1017.52,493.00) scale(1.048,1.04)" font-size="27.5">3</text>
<text transform="translate(1034.54,493.00) scale(0.976,1.04)" font-size="27.5">)</text>
<text transform="translate(30.07,19.50) scale(1.125,1.09)" font-size="28">5</text>
<text transform="translate(45.90,19.50) scale(0.943,1.09)" font-size="28">0</text>
<text transform="translate(59.32,19.50) scale(1.019,1.09)" font-size="28">0</text>
<text transform="translate(11.38,190.40) scale(1.160,1.0)" font-size="28">−</text>
<text transform="translate(30.07,190.40) scale(1.125,1.09)" font-size="28">5</text>
<text transform="translate(45.90,190.40) scale(0.943,1.09)" font-size="28">0</text>
<text transform="translate(59.32,190.40) scale(1.019,1.09)" font-size="28">0</text>
<text transform="translate(30.07,251.40) scale(1.125,1.09)" font-size="28">5</text>
<text transform="translate(45.90,251.40) scale(0.943,1.09)" font-size="28">0</text>
<text transform="translate(59.32,251.40) scale(1.019,1.09)" font-size="28">0</text>
<text transform="translate(11.38,422.90) scale(1.160,1.0)" font-size="28">−</text>
<text transform="translate(30.07,422.90) scale(1.125,1.09)" font-size="28">5</text>
<text transform="translate(45.90,422.90) scale(0.943,1.09)" font-size="28">0</text>
<text transform="translate(59.32,422.90) scale(1.019,1.09)" font-size="28">0</text>
<text transform="translate(30.07,469.40) scale(1.125,1.09)" font-size="28">5</text>
<text transform="translate(45.90,469.40) scale(0.943,1.09)" font-size="28">0</text>
<text transform="translate(59.32,469.40) scale(1.019,1.09)" font-size="28">0</text>
<text transform="translate(11.38,640.70) scale(1.160,1.0)" font-size="28">−</text>
<text transform="translate(30.07,640.70) scale(1.125,1.09)" font-size="28">5</text>
<text transform="translate(45.90,640.70) scale(0.943,1.09)" font-size="28">0</text>
<text transform="translate(59.32,640.70) scale(1.019,1.09)" font-size="28">0</text>
<text transform="translate(24.72,46.50) scale(0.993,1.02)" font-size="28">A</text>
<text transform="translate(30.50,285.90) scale(0.988,1.02)" font-size="28">B</text>
<text transform="translate(27.16,505.30) scale(1.082,1.02)" font-size="28">C</text>
<text transform="translate(28.74,106.40) scale(0.994,1.09)" font-size="28">0</text>
<text transform="translate(41.92,104.00) scale(0.900,1.0)" font-size="28">°</text>
<text transform="translate(60.30,106.40) scale(0.943,1.09)" font-size="28">0</text>
<text transform="translate(17.27,339.00) scale(0.937,1.09)" font-size="28">6</text>
<text transform="translate(30.30,339.00) scale(0.943,1.09)" font-size="28">0</text>
<text transform="translate(44.17,336.60) scale(0.900,1.0)" font-size="28">°</text>
<text transform="translate(60.30,339.00) scale(0.943,1.09)" font-size="28">0</text>
<text transform="translate(-0.55,555.70) scale(1.015,1.09)" font-size="28">2</text>
<text transform="translate(13.10,555.70) scale(0.900,1.09)" font-size="28">1</text>
<text transform="translate(25.70,555.70) scale(1.036,1.09)" font-size="28">0</text>
<text transform="translate(40.27,553.30) scale(0.900,1.0)" font-size="28">°</text>
<text transform="translate(58.59,555.70) scale(1.044,1.09)" font-size="28">0</text>
<text transform="translate(71.63,665.70) scale(0.968,1.04)" font-size="29">0</text>
<text transform="translate(185.43,665.70) scale(0.968,1.04)" font-size="29">0</text>
<text transform="translate(199.19,665.70) scale(0.900,1.04)" font-size="29">.</text>
<text transform="translate(207.28,665.70) scale(0.900,1.04)" font-size="29">0</text>
<text transform="translate(220.96,665.70) scale(0.900,1.04)" font-size="29">1</text>
<text transform="translate(311.88,665.70) scale(0.927,1.04)" font-size="29">0</text>
<text transform="translate(326.09,665.70) scale(0.900,1.04)" font-size="29">.</text>
<text transform="translate(334.21,665.70) scale(0.903,1.04)" font-size="29">0</text>
<text transform="translate(347.58,665.70) scale(1.109,1.04)" font-size="29">2</text>
<text transform="translate(435.92,665.70) scale(0.976,1.04)" font-size="29">0</text>
<text transform="translate(450.74,665.70) scale(0.900,1.04)" font-size="29">.</text>
<text transform="translate(458.91,665.70) scale(0.903,1.04)" font-size="29">0</text>
<text transform="translate(473.31,665.70) scale(0.927,1.04)" font-size="29">3</text>
<text transform="translate(563.21,665.70) scale(0.903,1.04)" font-size="29">0</text>
<text transform="translate(577.99,665.70) scale(0.900,1.04)" font-size="29">.</text>
<text transform="translate(585.21,665.70) scale(0.903,1.04)" font-size="29">0</text>
<text transform="translate(600.34,665.70) scale(0.959,1.04)" font-size="29">4</text>
<text transform="translate(684.21,665.70) scale(0.903,1.04)" font-size="29">0</text>
<text transform="translate(698.94,665.70) scale(0.900,1.04)" font-size="29">.</text>
<text transform="translate(706.21,665.70) scale(0.903,1.04)" font-size="29">0</text>
<text transform="translate(722.03,665.70) scale(0.900,1.04)" font-size="29">5</text>
<text transform="translate(807.92,665.70) scale(0.976,1.04)" font-size="29">0</text>
<text transform="translate(822.81,665.70) scale(0.935,1.04)" font-size="29">.</text>
<text transform="translate(831.81,665.70) scale(0.903,1.04)" font-size="29">0</text>
<text transform="translate(846.36,665.70) scale(0.900,1.04)" font-size="29">6</text>
<text transform="translate(934.21,665.70) scale(0.903,1.04)" font-size="29">0</text>
<text transform="translate(948.99,665.70) scale(0.900,1.04)" font-size="29">.</text>
<text transform="translate(957.02,665.70) scale(0.984,1.04)" font-size="29">0</text>
<text transform="translate(971.73,665.70) scale(1.030,1.04)" font-size="29">7</text>
<text transform="translate(1051.61,665.70) scale(0.903,1.04)" font-size="29">0</text>
<text transform="translate(1066.29,665.70) scale(0.900,1.04)" font-size="29">.</text>
<text transform="translate(1074.51,665.70) scale(0.903,1.04)" font-size="29">0</text>
<text transform="translate(1089.02,665.70) scale(0.976,1.04)" font-size="29">8</text>
</g>
</svg>
</body></html>
